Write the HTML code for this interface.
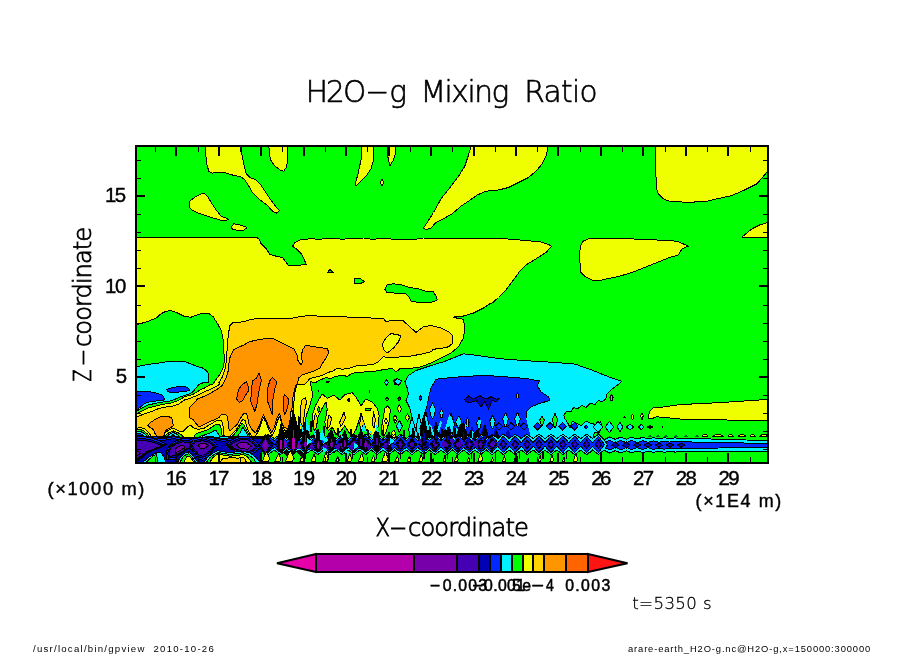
<!DOCTYPE html>
<html><head><meta charset="utf-8"><title>H2O-g Mixing Ratio</title>
<style>html,body{margin:0;padding:0;background:#fff}svg{display:block}text{fill:#000}</style></head>
<body>
<svg width="904" height="654" viewBox="0 0 904 654">
<rect width="904" height="654" fill="#fff"/>
<defs><clipPath id="fr"><rect x="136" y="146" width="632" height="317"/></clipPath></defs>
<g clip-path="url(#fr)" shape-rendering="crispEdges">
<rect x="136" y="146" width="632" height="317" fill="#00ff00"/>
<path d="M205.0 145.0 L205.8 155.0 L207.0 165.0 L208.8 171.2 L212.5 173.2 L216.2 172.0 L223.8 172.5 L232.5 175.0 L241.2 177.0 L245.0 180.0 L248.8 186.2 L252.5 192.5 L260.0 200.0 L267.5 205.5 L272.5 211.2 L276.2 213.2 L279.5 210.8 L276.2 207.0 L270.0 198.8 L265.0 191.2 L260.0 183.8 L256.2 180.0 L250.0 177.5 L246.2 173.8 L243.8 163.8 L242.0 155.0 L240.8 145.0Z" fill="#f0ff00" stroke="#000" stroke-width="1" stroke-linejoin="round"/>
<path d="M268.8 145.0 L269.5 155.0 L271.2 161.2 L275.0 166.2 L280.0 170.0 L283.8 171.2 L286.2 167.5 L287.5 162.5 L287.5 145.0Z" fill="#f0ff00" stroke="#000" stroke-width="1" stroke-linejoin="round"/>
<path d="M189.5 201.2 L196.2 196.2 L203.8 193.0 L207.5 196.2 L211.2 202.5 L216.2 210.0 L221.2 216.2 L228.8 219.2 L226.2 220.5 L220.0 220.0 L210.0 217.0 L200.0 213.8 L192.5 210.5 L189.5 207.5Z" fill="#f0ff00" stroke="#000" stroke-width="1" stroke-linejoin="round"/>
<path d="M231.2 227.5 L233.8 223.8 L240.0 225.0 L247.0 227.5 L243.8 230.0 L237.5 230.5 L232.5 229.2Z" fill="#f0ff00" stroke="#000" stroke-width="1" stroke-linejoin="round"/>
<path d="M362.2 145.0 L361.0 160.0 L358.0 173.8 L356.0 181.2 L355.0 183.8 L356.0 185.8 L359.8 182.5 L366.0 176.2 L371.0 168.8 L373.5 160.0 L374.0 145.0Z" fill="#f0ff00" stroke="#000" stroke-width="1" stroke-linejoin="round"/>
<path d="M387.2 145.0 L388.0 157.5 L389.8 165.8 L393.5 160.0 L395.5 153.8 L396.0 145.0Z" fill="#f0ff00" stroke="#000" stroke-width="1" stroke-linejoin="round"/>
<path d="M380.2 182.5 L382.2 179.2 L384.0 182.5 L382.2 185.8Z" fill="#f0ff00" stroke="#000" stroke-width="1" stroke-linejoin="round"/>
<path d="M471.5 145.0 L468.5 155.0 L464.8 166.2 L458.5 176.2 L451.0 186.2 L441.0 198.8 L433.5 212.5 L427.2 222.5 L423.5 228.0 L426.0 229.5 L431.0 228.0 L436.0 222.5 L442.2 219.5 L452.2 213.8 L461.0 206.2 L468.5 201.2 L477.2 195.0 L486.0 191.2 L498.5 190.0 L508.5 187.5 L518.5 182.5 L528.5 177.5 L536.0 171.2 L542.2 163.8 L546.5 155.0 L548.5 145.0Z" fill="#f0ff00" stroke="#000" stroke-width="1" stroke-linejoin="round"/>
<path d="M655.8 145.0 L655.8 165.0 L656.2 187.5 L658.2 193.8 L663.2 198.8 L669.5 201.2 L682.0 202.0 L694.5 202.0 L707.0 201.2 L717.0 198.8 L732.0 195.5 L744.5 190.0 L757.0 183.8 L764.5 175.0 L767.5 171.2 L772.0 165.0 L772.0 145.0Z" fill="#f0ff00" stroke="#000" stroke-width="1" stroke-linejoin="round"/>
<path d="M580.0 250.0 L580.8 245.0 L583.2 241.2 L588.2 238.8 L607.0 238.8 L629.5 238.8 L657.0 240.0 L677.0 241.2 L683.2 243.8 L688.2 246.2 L682.0 248.8 L678.2 255.0 L669.5 257.5 L657.0 262.5 L644.5 267.5 L632.0 272.5 L619.5 276.2 L607.0 278.8 L599.5 280.5 L592.0 280.0 L585.8 277.0 L580.8 272.5 L579.8 260.0Z" fill="#f0ff00" stroke="#000" stroke-width="1" stroke-linejoin="round"/>
<path d="M742.0 237.0 L752.0 228.8 L759.5 225.0 L772.0 221.2 L772.0 238.5 L757.0 237.0Z" fill="#f0ff00" stroke="#000" stroke-width="1" stroke-linejoin="round"/>
<path d="M648.2 418.0 L649.5 411.8 L653.2 408.0 L664.5 406.8 L677.0 405.0 L694.5 403.8 L712.0 403.0 L732.0 401.8 L752.0 400.5 L772.0 399.0 L772.0 421.0 L757.0 420.5 L742.0 420.0 L727.0 420.0 L712.0 419.2 L697.0 420.0 L682.0 419.2 L669.5 418.0 L657.0 416.8 L652.0 418.5Z" fill="#f0ff00" stroke="#000" stroke-width="1" stroke-linejoin="round"/>
<path d="M130.0 237.0 L256.2 237.0 L258.8 238.8 L261.2 243.8 L266.2 248.8 L270.0 254.5 L276.2 256.2 L282.5 257.5 L286.2 262.5 L288.8 265.8 L295.0 265.8 L306.2 264.2 L303.8 258.8 L301.2 253.8 L296.2 248.8 L292.5 246.2 L295.0 242.5 L300.0 240.0 L310.0 238.8 L320.0 239.2 L330.0 238.2 L342.5 239.2 L356.0 238.2 L363.5 238.0 L371.0 239.2 L381.0 238.8 L401.0 239.2 L416.0 239.2 L423.5 238.0 L438.5 238.0 L456.0 238.8 L506.0 238.8 L526.0 240.5 L541.0 242.0 L548.5 244.5 L551.5 246.2 L546.0 252.5 L536.0 258.8 L526.0 265.0 L519.8 271.2 L513.5 280.0 L506.0 290.0 L498.5 297.5 L492.2 303.0 L491.0 303.0 L483.5 308.0 L473.5 313.0 L463.5 316.0 L454.8 316.0 L453.5 317.5 L463.5 319.2 L464.8 328.0 L463.5 338.0 L458.5 346.8 L451.0 353.0 L441.0 358.0 L431.0 363.0 L421.0 366.8 L409.8 368.5 L401.0 368.0 L396.0 371.8 L392.2 368.5 L386.0 369.2 L376.0 371.0 L366.0 371.8 L356.0 373.0 L356.0 440.0 L130.0 440.0Z" fill="#f0ff00" stroke="#000" stroke-width="1" stroke-linejoin="round"/>
<path d="M327.5 272.5 L330.0 269.5 L333.0 272.5Z" fill="#00ff00" stroke="#000" stroke-width="1" stroke-linejoin="round"/>
<path d="M354.0 278.0 L361.0 278.8 L364.2 281.8 L359.8 283.8 L354.0 283.8Z" fill="#00ff00" stroke="#000" stroke-width="1" stroke-linejoin="round"/>
<path d="M384.8 290.0 L387.2 284.5 L393.5 283.8 L402.2 285.0 L409.8 287.5 L418.5 288.8 L426.0 291.2 L433.5 291.8 L436.0 296.2 L437.2 300.0 L431.0 302.5 L418.5 302.5 L411.0 301.2 L408.5 296.2 L404.8 293.0 L393.5 293.0 L387.2 292.5Z" fill="#00ff00" stroke="#000" stroke-width="1" stroke-linejoin="round"/>
<path d="M135.0 324.9 L142.5 323.0 L148.8 321.1 L156.2 318.0 L161.2 313.6 L166.2 311.1 L171.2 310.8 L177.5 313.0 L185.0 316.8 L191.2 317.1 L198.8 314.2 L203.8 313.2 L208.8 313.6 L213.1 316.8 L217.5 323.6 L221.2 330.5 L223.1 339.2 L223.8 350.5 L224.4 360.5 L223.1 368.0 L220.0 374.2 L216.2 379.2 L213.1 384.0 L211.2 384.0 L206.2 387.1 L200.0 390.2 L192.5 394.6 L185.0 396.5 L180.0 399.6 L172.5 402.8 L165.0 404.0 L156.2 405.9 L148.8 407.8 L142.5 410.9 L135.0 414.6Z" fill="#00ff00" stroke="#000" stroke-width="1" stroke-linejoin="round"/>
<path d="M135.0 366.8 L142.5 365.5 L150.0 364.2 L158.8 363.0 L167.5 361.5 L177.5 361.1 L185.0 361.5 L190.0 363.6 L196.2 366.1 L202.5 368.0 L206.2 370.5 L208.8 374.2 L209.0 379.2 L208.1 382.4 L202.5 383.0 L200.0 384.0 L199.4 384.0 L196.2 387.8 L192.5 392.1 L187.5 394.6 L180.0 397.1 L171.2 400.9 L162.5 402.1 L155.0 403.4 L147.5 405.2 L141.2 408.4 L135.0 412.1Z" fill="#00f0ff" stroke="#000" stroke-width="1" stroke-linejoin="round"/>
<path d="M135.0 391.5 L142.5 391.2 L150.0 391.8 L157.5 393.4 L162.5 395.2 L164.4 398.4 L163.8 400.0 L157.5 400.9 L151.2 401.5 L146.2 402.8 L142.5 405.2 L138.8 408.4 L135.0 410.9Z" fill="#0028ff" stroke="#000" stroke-width="1" stroke-linejoin="round"/>
<path d="M166.9 389.6 L171.2 387.8 L180.0 386.2 L185.0 386.5 L188.8 388.4 L189.8 390.2 L185.0 391.5 L177.5 392.1 L170.0 392.5 L167.5 391.2Z" fill="#0028ff" stroke="#000" stroke-width="1" stroke-linejoin="round"/>
<path d="M135.0 430.0 L140.8 429.7 L144.1 431.1 L147.0 433.6 L149.5 436.5 L164.9 436.5 L166.5 434.2 L169.0 432.8 L173.2 430.9 L175.2 431.5 L179.8 433.6 L183.1 436.5 L183.1 439.0 L135.0 439.0Z" fill="#00ff00" stroke="#000" stroke-width="1" stroke-linejoin="round"/>
<path d="M135.0 432.0 L140.4 431.5 L143.3 432.8 L146.2 435.3 L147.8 436.9 L166.5 436.9 L169.0 434.6 L173.2 432.5 L175.6 433.4 L178.1 435.3 L179.8 436.9 L179.8 439.0 L135.0 439.0Z" fill="#00f0ff" stroke="#000" stroke-width="1" stroke-linejoin="round"/>
<path d="M135.0 434.0 L140.0 433.6 L142.4 434.9 L144.9 436.9 L169.0 436.9 L173.2 434.7 L176.5 436.9 L176.5 439.0 L135.0 439.0Z" fill="#0028ff" stroke="#000" stroke-width="1" stroke-linejoin="round"/>
<path d="M194.1 436.5 L195.8 434.0 L200.7 432.0 L207.4 429.9 L211.5 427.4 L214.9 424.9 L217.8 424.1 L219.8 424.9 L221.1 428.2 L221.5 433.2 L222.3 436.5 L232.3 436.5 L236.4 431.5 L239.8 426.6 L242.2 423.2 L243.9 424.9 L245.6 428.2 L248.0 433.2 L250.5 436.5 L250.5 439.0 L194.1 439.0Z" fill="#00ff00" stroke="#000" stroke-width="1" stroke-linejoin="round"/>
<path d="M199.1 436.5 L204.9 434.9 L211.5 432.4 L214.9 429.9 L216.5 430.7 L218.2 434.0 L219.8 436.5 L237.3 436.5 L239.8 433.2 L242.2 428.2 L243.1 427.4 L245.6 431.5 L248.0 435.7 L248.0 439.0 L199.1 439.0Z" fill="#00f0ff" stroke="#000" stroke-width="1" stroke-linejoin="round"/>
<path d="M229.4 326.1 L232.5 323.0 L236.2 322.4 L243.0 321.8 L249.2 319.9 L258.0 318.2 L269.2 318.6 L280.5 319.0 L290.5 318.6 L303.0 316.1 L313.0 315.5 L318.0 316.1 L330.5 316.1 L343.0 316.8 L356.0 317.4 L371.0 318.0 L383.5 318.5 L386.0 321.8 L393.5 320.0 L402.2 320.0 L408.5 325.5 L416.0 332.5 L423.5 326.8 L431.0 325.5 L441.0 328.0 L448.5 331.8 L452.2 335.5 L453.0 343.0 L448.5 346.8 L441.0 348.5 L433.5 349.2 L431.0 351.8 L421.0 354.2 L411.0 356.0 L401.0 356.8 L391.0 358.0 L383.5 356.8 L378.5 361.8 L373.5 364.2 L363.5 365.5 L356.0 366.0 L350.5 368.0 L343.0 369.2 L336.8 368.6 L333.0 371.1 L328.0 372.4 L323.0 374.9 L318.0 376.8 L313.0 377.4 L309.2 379.2 L305.5 384.0 L296.8 385.0 L294.9 392.5 L294.0 401.2 L293.0 410.0 L292.4 417.5 L291.1 426.2 L288.6 431.9 L284.9 430.6 L282.4 425.0 L280.5 418.8 L279.2 416.2 L277.4 421.2 L274.9 430.0 L272.0 435.6 L269.2 430.6 L266.1 422.5 L263.6 417.8 L261.8 421.9 L259.2 429.4 L255.5 436.2 L252.2 436.5 L249.7 433.2 L247.6 429.0 L246.4 424.9 L245.1 420.7 L243.5 419.5 L241.8 420.3 L239.8 424.1 L237.3 428.2 L233.1 433.2 L229.8 436.5 L225.2 436.5 L223.6 434.9 L223.6 429.0 L222.7 424.1 L221.5 420.7 L219.0 419.9 L215.7 421.2 L211.5 423.7 L207.4 426.1 L204.1 428.2 L199.9 429.0 L196.6 429.0 L193.3 427.8 L190.8 425.3 L187.9 426.6 L183.3 431.1 L180.0 431.5 L178.1 430.3 L174.8 429.0 L171.5 428.6 L167.3 431.1 L164.9 433.2 L163.6 436.5 L151.6 436.9 L150.3 434.9 L148.3 432.0 L144.9 429.0 L141.6 427.8 L135.0 428.2 L135.0 417.5 L142.5 414.6 L150.0 412.1 L157.5 409.0 L165.0 407.1 L173.8 405.9 L178.8 404.0 L183.8 400.2 L190.0 398.4 L197.5 395.2 L205.0 391.5 L211.2 389.0 L217.5 385.9 L220.0 384.0 L218.8 383.0 L222.5 376.8 L225.0 369.2 L226.2 361.8 L226.9 353.0 L227.5 341.8 L228.8 333.0Z" fill="#ffd200" stroke="#000" stroke-width="1" stroke-linejoin="round"/>
<path d="M382.2 344.2 L386.0 338.0 L391.0 333.5 L401.0 335.5 L398.5 341.8 L393.5 348.0 L387.2 353.0 L383.5 349.2Z" fill="#f0ff00" stroke="#000" stroke-width="1" stroke-linejoin="round"/>
<path d="M243.0 345.5 L248.0 342.4 L254.2 340.5 L261.8 339.2 L268.0 338.2 L273.0 338.6 L278.0 341.1 L284.2 344.2 L290.5 347.4 L294.2 349.2 L296.8 354.2 L298.0 360.5 L301.1 364.9 L302.4 361.8 L301.1 355.5 L303.0 349.2 L305.5 345.5 L310.5 346.1 L318.0 347.4 L323.0 348.0 L327.4 348.6 L328.6 352.4 L326.8 356.8 L323.0 362.4 L319.9 368.0 L315.5 370.5 L308.0 373.0 L302.4 374.9 L298.6 378.0 L297.4 384.0 L296.1 385.0 L294.2 391.2 L293.0 397.5 L292.4 403.8 L291.8 410.0 L290.5 412.5 L289.9 422.5 L288.0 428.8 L284.2 427.5 L281.8 422.5 L280.5 416.2 L279.2 413.8 L276.8 418.8 L274.2 427.5 L271.8 432.5 L269.2 427.5 L266.1 420.0 L263.6 415.0 L261.8 418.8 L259.2 426.2 L256.1 432.2 L255.0 432.4 L253.0 430.7 L250.5 427.4 L248.5 422.4 L247.6 416.6 L246.4 413.3 L243.1 414.1 L240.6 418.3 L237.3 424.1 L233.1 428.2 L229.8 430.7 L228.1 426.6 L228.1 421.6 L227.7 416.6 L225.2 414.5 L221.1 414.9 L219.0 417.4 L215.7 419.1 L209.9 421.6 L204.1 424.5 L199.1 427.0 L196.6 424.1 L193.3 419.9 L189.5 417.8 L189.1 412.4 L190.0 406.6 L193.8 403.4 L197.5 399.0 L203.8 396.5 L210.0 393.4 L217.5 389.0 L222.5 385.2 L223.1 384.0 L226.2 378.0 L228.1 371.1 L228.8 365.5 L229.4 359.2 L231.2 354.2 L233.8 349.9 L238.8 347.0 L243.0 345.5Z" fill="#ff9600" stroke="#000" stroke-width="1" stroke-linejoin="round"/>
<path d="M147.8 425.3 L150.7 422.4 L154.9 419.5 L159.0 417.4 L163.2 416.2 L167.3 416.2 L171.5 417.8 L172.7 421.6 L173.2 425.7 L170.7 427.8 L166.5 429.9 L164.4 432.8 L163.6 436.5 L156.6 436.5 L154.9 433.2 L153.2 429.5 L149.9 427.4Z" fill="#ff9600" stroke="#000" stroke-width="1" stroke-linejoin="round"/>
<path d="M236.6 399.0 L238.7 389.1 L242.4 384.5 L246.6 381.6 L249.1 389.9 L245.7 394.9 L242.8 400.7 L239.1 402.3Z" fill="#ff6400" stroke="#000" stroke-width="1" stroke-linejoin="round"/>
<path d="M250.7 400.7 L252.4 380.8 L256.5 378.3 L259.0 373.3 L261.5 379.9 L259.0 390.7 L257.0 404.0 L254.9 411.5 L252.4 405.7Z" fill="#ff6400" stroke="#000" stroke-width="1" stroke-linejoin="round"/>
<path d="M267.3 400.7 L267.7 388.2 L269.8 380.8 L272.3 377.4 L276.9 381.6 L274.8 389.1 L273.1 397.4 L272.3 414.8 L270.2 408.2Z" fill="#ff6400" stroke="#000" stroke-width="1" stroke-linejoin="round"/>
<path d="M283.5 397.4 L284.8 394.5 L288.5 399.0 L288.1 404.8 L286.4 411.5 L284.3 414.8 L283.5 406.5Z" fill="#ff6400" stroke="#000" stroke-width="1" stroke-linejoin="round"/>
<path d="M135.0 435.6 L142.5 436.2 L150.0 437.5 L155.0 438.8 L161.2 438.1 L167.5 437.5 L173.8 436.2 L180.0 437.5 L192.5 438.1 L205.0 437.5 L211.2 436.9 L217.5 438.1 L223.8 439.4 L230.0 438.1 L236.2 437.5 L243.0 436.9 L255.0 436.9 L266.2 436.5 L266.2 455.0 L262.5 457.8 L260.0 463.8 L135.0 463.8Z" fill="#0028ff"/>
<path d="M135.0 435.6 L142.5 436.2 L150.0 437.5 L155.0 438.8 L161.2 438.1 L167.5 437.5 L173.8 436.2 L180.0 437.5 L192.5 438.1 L205.0 437.5 L211.2 436.9 L217.5 438.1 L223.8 439.4 L230.0 438.1 L236.2 437.5 L243.0 436.9 L255.0 436.9 L266.2 436.5" fill="none" stroke="#000" stroke-width="2" stroke-linejoin="round"/>
<path d="M135.0 438.1 L142.5 438.5 L150.0 439.8 L155.0 441.0 L161.2 440.6 L167.5 439.8 L173.8 438.5 L180.0 439.8 L192.5 440.2 L205.0 439.4 L211.2 439.0 L217.5 440.2 L223.8 441.5 L230.0 440.2 L236.2 439.4 L243.0 438.8 L255.0 438.8 L265.6 438.4 L265.6 454.4 L261.9 456.9 L258.8 463.8 L135.0 463.8Z" fill="#0000b4"/>
<path d="M135.0 438.1 L142.5 438.5 L150.0 439.8 L155.0 441.0 L161.2 440.6 L167.5 439.8 L173.8 438.5 L180.0 439.8 L192.5 440.2 L205.0 439.4 L211.2 439.0 L217.5 440.2 L223.8 441.5 L230.0 440.2 L236.2 439.4 L243.0 438.8 L255.0 438.8 L265.6 438.4" fill="none" stroke="#000" stroke-width="1" stroke-linejoin="round"/>
<path d="M131.2 436.7 L141.1 436.1 L151.0 438.0 L160.9 441.4 L166.7 444.2 L159.2 447.9 L152.7 450.7 L146.1 453.6 L141.1 458.2 L134.5 462.9 L131.2 463.9Z" fill="#0028ff" stroke="#000" stroke-width="1" stroke-linejoin="round"/>
<path d="M133.1 438.7 L141.8 438.2 L150.5 439.7 L159.2 442.6 L164.3 444.9 L157.8 448.0 L151.9 450.4 L146.2 452.7 L141.8 456.6 L136.0 460.5 L133.1 461.3Z" fill="#0000b4" stroke="#000" stroke-width="1" stroke-linejoin="round"/>
<path d="M168.4 446.8 L175.0 441.2 L183.3 438.4 L191.5 439.3 L194.8 443.1 L191.5 447.8 L186.6 449.6 L183.3 452.4 L178.3 455.3 L175.0 459.0 L166.8 459.9 L166.0 453.4Z" fill="#0028ff" stroke="#000" stroke-width="1" stroke-linejoin="round"/>
<path d="M169.8 447.2 L175.6 442.5 L182.9 440.1 L190.1 440.9 L193.0 444.0 L190.1 447.9 L185.8 449.5 L182.9 451.8 L178.5 454.2 L175.6 457.3 L168.4 458.1 L167.7 452.6Z" fill="#0000b4" stroke="#000" stroke-width="1" stroke-linejoin="round"/>
<path d="M189.3 444.5 L194.2 438.9 L202.5 437.0 L209.1 438.9 L214.0 441.7 L217.3 445.4 L212.4 451.0 L207.4 456.7 L202.5 460.4 L197.5 458.5 L194.2 452.9 L190.9 449.2Z" fill="#0028ff" stroke="#000" stroke-width="1" stroke-linejoin="round"/>
<path d="M190.9 445.1 L195.2 440.4 L202.5 438.8 L208.3 440.4 L212.6 442.7 L215.5 445.8 L211.2 450.5 L206.8 455.2 L202.5 458.3 L198.1 456.8 L195.2 452.1 L192.3 449.0Z" fill="#0000b4" stroke="#000" stroke-width="1" stroke-linejoin="round"/>
<path d="M225.7 444.4 L232.3 439.7 L238.9 436.9 L248.8 436.5 L257.0 442.5 L260.3 447.2 L255.4 451.9 L248.8 454.7 L242.9 453.8 L237.2 451.9 L230.6 449.1Z" fill="#0028ff" stroke="#000" stroke-width="1" stroke-linejoin="round"/>
<path d="M227.8 444.7 L233.6 440.8 L239.4 438.4 L248.1 438.1 L255.4 443.1 L258.3 447.0 L253.9 450.9 L248.1 453.3 L242.9 452.5 L238.0 450.9 L232.2 448.6Z" fill="#0000b4" stroke="#000" stroke-width="1" stroke-linejoin="round"/>
<path d="M135.0 440.6 L142.5 440.2 L150.0 441.5 L157.5 443.8 L161.9 445.6 L156.2 448.1 L151.2 450.0 L146.2 451.9 L142.5 455.0 L137.5 458.1 L135.0 458.8Z" fill="#4600b4" stroke="#000" stroke-width="1" stroke-linejoin="round"/>
<path d="M171.2 447.5 L176.2 443.8 L182.5 441.9 L188.8 442.5 L191.2 445.0 L188.8 448.1 L185.0 449.4 L182.5 451.2 L178.8 453.1 L176.2 455.6 L170.0 456.2 L169.4 451.9Z" fill="#4600b4" stroke="#000" stroke-width="1" stroke-linejoin="round"/>
<path d="M192.5 445.6 L196.2 441.9 L202.5 440.6 L207.5 441.9 L211.2 443.8 L213.8 446.2 L210.0 450.0 L206.2 453.8 L202.5 456.2 L198.8 455.0 L196.2 451.2 L193.8 448.8Z" fill="#4600b4" stroke="#000" stroke-width="1" stroke-linejoin="round"/>
<path d="M230.0 445.0 L235.0 441.9 L240.0 440.0 L247.5 439.8 L253.8 443.8 L256.2 446.9 L252.5 450.0 L247.5 451.9 L243.0 451.2 L238.8 450.0 L233.8 448.1Z" fill="#4600b4" stroke="#000" stroke-width="1" stroke-linejoin="round"/>
<path d="M135.0 450.6 L138.1 451.2 L140.0 453.5 L137.5 455.6 L135.0 456.2Z" fill="#7800aa" stroke="#000" stroke-width="1" stroke-linejoin="round"/>
<path d="M198.1 445.0 L201.2 443.1 L206.2 443.8 L208.1 445.6 L205.0 448.1 L200.6 448.8Z" fill="#7800aa" stroke="#000" stroke-width="1" stroke-linejoin="round"/>
<path d="M236.2 445.0 L240.0 442.5 L246.9 442.5 L251.2 446.2 L247.5 449.4 L243.0 448.8 L240.0 448.1Z" fill="#7800aa" stroke="#000" stroke-width="1" stroke-linejoin="round"/>
<path d="M176.1 448.2 L178.3 446.6 L181.2 445.7 L184.0 446.0 L185.1 447.1 L184.0 448.5 L182.3 449.1 L181.2 449.9 L179.5 450.8 L178.3 451.9 L175.5 452.2 L175.2 450.2Z" fill="#7800aa" stroke="#000" stroke-width="1" stroke-linejoin="round"/>
<path d="M142.5 462.5 L147.5 458.1 L156.9 452.2 L160.6 452.8 L163.8 456.2 L165.6 462.5Z" fill="#00f0ff" stroke="#000" stroke-width="1" stroke-linejoin="round"/>
<path d="M145.6 462.5 L152.5 456.5 L156.6 453.8 L157.8 462.5Z" fill="#00ff00" stroke="#000" stroke-width="1" stroke-linejoin="round"/>
<path d="M177.5 462.5 L180.0 457.5 L185.0 453.1 L188.8 451.9 L192.5 455.0 L196.2 460.0 L198.1 462.5Z" fill="#00f0ff" stroke="#000" stroke-width="1" stroke-linejoin="round"/>
<path d="M180.0 462.5 L182.5 457.5 L186.2 454.4 L188.8 453.8 L191.9 456.9 L195.6 462.5Z" fill="#00ff00" stroke="#000" stroke-width="1" stroke-linejoin="round"/>
<path d="M183.8 462.5 L186.9 456.5 L189.4 456.0 L194.4 462.5Z" fill="#f0ff00" stroke="#000" stroke-width="1" stroke-linejoin="round"/>
<path d="M203.8 462.5 L207.5 457.5 L212.5 453.1 L217.5 450.6 L223.8 451.9 L230.0 452.5 L236.2 451.9 L243.0 451.2 L250.0 453.1 L256.2 457.5 L260.0 462.5Z" fill="#00f0ff" stroke="#000" stroke-width="1" stroke-linejoin="round"/>
<path d="M206.2 462.5 L210.0 457.5 L215.0 454.0 L218.8 452.5 L223.8 453.5 L230.0 454.4 L236.2 453.5 L243.0 452.8 L248.8 455.0 L253.8 458.8 L256.2 462.5Z" fill="#00ff00" stroke="#000" stroke-width="1" stroke-linejoin="round"/>
<path d="M210.0 462.5 L212.5 457.8 L217.5 454.0 L223.8 455.2 L230.0 456.2 L236.2 455.6 L243.0 454.6 L247.5 456.9 L250.0 460.0 L251.9 462.5Z" fill="#f0ff00" stroke="#000" stroke-width="1" stroke-linejoin="round"/>
<path d="M220.0 462.5 L222.5 458.8 L230.0 457.8 L238.8 458.1 L243.0 456.9 L245.6 459.4 L246.2 462.5Z" fill="#ffd200" stroke="#000" stroke-width="1" stroke-linejoin="round"/>
<path d="M310.0 381.2 L315.0 383.1 L318.8 380.6 L326.2 377.5 L330.0 378.8 L336.2 376.2 L341.2 375.6 L347.5 376.2 L352.5 373.1 L356.2 372.8 L357.0 373.2 L400.0 372.0 L400.0 442.0 L311.0 442.0 L305.0 420.0 L306.9 413.8 L310.0 405.0 L312.5 396.2 L311.9 390.0Z" fill="#00ff00"/>
<path d="M356.2 372.8 L352.5 373.1 L347.5 376.2 L341.2 375.6 L336.2 376.2 L330.0 378.8 L326.2 377.5 L318.8 380.6 L315.0 383.1 L310.0 381.2 L311.9 390.0 L312.5 396.2 L310.0 405.0 L306.9 413.8 L305.6 418.8" fill="none" stroke="#000" stroke-width="1" stroke-linejoin="round"/>
<path d="M325.6 381.2 L330.6 380.6 L329.4 382.5 L326.9 383.1Z" fill="#000"/>
<path d="M317.9 390.0 L319.8 389.8 L319.0 391.5 L318.0 391.5Z" fill="#000"/>
<path d="M369.0 390.0 L370.0 390.0 L370.0 393.1 L369.0 393.1Z" fill="#000"/>
<path d="M384.8 382.0 L386.4 379.8 L388.0 382.0 L386.4 384.2Z" fill="#00f0ff" stroke="#000" stroke-width="1" stroke-linejoin="round"/>
<path d="M393.5 380.8 L396.0 378.9 L399.0 379.5 L400.4 382.0 L398.5 384.5 L394.8 384.2Z" fill="#00f0ff" stroke="#000" stroke-width="1" stroke-linejoin="round"/>
<path d="M385.4 399.1 L387.0 397.4 L388.6 399.1 L387.0 400.9Z" fill="#00ff00" stroke="#000" stroke-width="1" stroke-linejoin="round"/>
<path d="M312.9 413.2 L316.0 404.5 L322.2 393.9 L327.2 398.2 L334.1 395.1 L339.8 400.1 L344.8 394.5 L352.2 392.6 L356.0 397.0 L361.0 405.8 L366.0 398.9 L372.2 402.0 L377.2 408.2 L379.1 415.8 L378.5 425.8 L376.0 432.0 L372.2 435.8 L367.2 432.0 L364.8 425.8 L361.0 413.2 L358.5 422.0 L356.0 429.5 L352.2 435.8 L348.5 432.0 L344.8 425.8 L341.0 430.8 L336.0 434.5 L332.2 427.0 L328.5 430.8 L326.0 427.0 L324.8 422.0 L327.2 409.5 L326.0 402.0 L322.2 408.2 L318.5 415.8 L316.0 422.0 L313.5 429.5 L312.2 422.0Z" fill="#f0ff00" stroke="#000" stroke-width="1" stroke-linejoin="round"/>
<path d="M382.2 424.5 L384.8 408.2 L387.9 405.8 L390.4 409.5 L389.1 422.0 L386.0 432.0 L383.5 437.0Z" fill="#f0ff00" stroke="#000" stroke-width="1" stroke-linejoin="round"/>
<path d="M393.5 419.5 L395.4 415.1 L397.2 419.5 L395.4 423.2Z" fill="#f0ff00" stroke="#000" stroke-width="1" stroke-linejoin="round"/>
<path d="M391.0 434.5 L394.8 430.8 L396.0 437.0 L392.2 437.6Z" fill="#f0ff00" stroke="#000" stroke-width="1" stroke-linejoin="round"/>
<path d="M313.5 422.0 L315.4 413.2 L317.9 419.5 L316.0 428.2 L314.1 430.8Z" fill="#ffd200" stroke="#000" stroke-width="1" stroke-linejoin="round"/>
<path d="M327.2 422.0 L329.1 415.1 L331.6 418.2 L329.8 425.8 L327.9 428.2Z" fill="#ffd200" stroke="#000" stroke-width="1" stroke-linejoin="round"/>
<path d="M339.8 422.0 L344.1 412.0 L345.4 418.2 L342.2 424.5 L340.4 427.0Z" fill="#ffd200" stroke="#000" stroke-width="1" stroke-linejoin="round"/>
<path d="M359.8 423.2 L361.6 414.5 L363.5 422.0 L362.2 430.8 L360.4 430.8Z" fill="#ffd200" stroke="#000" stroke-width="1" stroke-linejoin="round"/>
<path d="M372.2 424.5 L373.5 412.0 L375.4 419.5 L374.1 428.2Z" fill="#ffd200" stroke="#000" stroke-width="1" stroke-linejoin="round"/>
<path d="M381.0 424.5 L382.9 423.2 L383.5 430.8 L381.6 434.5Z" fill="#ffd200" stroke="#000" stroke-width="1" stroke-linejoin="round"/>
<path d="M300.4 408.2 L302.2 399.5 L305.4 397.6 L306.6 402.0 L304.8 409.5 L303.5 422.0 L302.2 430.8 L300.8 422.0Z" fill="#ffd200" stroke="#000" stroke-width="1" stroke-linejoin="round"/>
<path d="M317.2 409.5 L318.8 406.4 L320.0 409.5 L318.8 412.6Z" fill="#00ff00" stroke="#000" stroke-width="1" stroke-linejoin="round"/>
<path d="M347.6 400.1 L348.9 398.5 L350.1 400.1 L348.9 401.8Z" fill="#00ff00" stroke="#000" stroke-width="1" stroke-linejoin="round"/>
<path d="M365.0 408.9 L371.6 408.2 L370.4 410.1 L366.0 410.8Z" fill="#00ff00" stroke="#000" stroke-width="1" stroke-linejoin="round"/>
<path d="M404.8 381.8 L408.5 375.5 L416.0 370.5 L431.0 365.5 L443.5 361.8 L456.0 356.8 L463.5 353.8 L473.5 355.0 L491.0 357.5 L506.0 359.2 L531.0 361.0 L556.0 362.5 L576.0 364.2 L582.0 366.8 L592.0 370.0 L602.0 374.2 L612.0 378.0 L622.0 381.2 L617.0 385.5 L612.0 389.2 L607.0 394.2 L605.8 399.2 L602.0 401.8 L598.2 400.5 L594.5 405.0 L590.8 403.0 L585.8 407.5 L582.0 405.5 L577.5 408.8 L573.8 407.5 L571.2 411.2 L566.2 411.9 L563.8 415.0 L565.0 418.8 L567.5 422.5 L570.0 427.5 L572.5 421.2 L576.2 423.1 L581.2 425.6 L586.2 421.2 L590.0 423.1 L595.0 424.4 L600.0 421.9 L600.0 421.2 L601.9 425.0 L600.6 430.0 L598.1 433.8 L595.0 431.9 L593.1 436.2 L598.8 436.5 L602.5 437.5 L602.5 441.2 L416.0 438.0 L413.0 420.5 L409.8 408.0 L406.0 400.5 L408.5 394.2 L407.2 388.0Z" fill="#00f0ff"/>
<path d="M413.0 420.5 L409.8 408.0 L406.0 400.5 L408.5 394.2 L407.2 388.0 L404.8 381.8 L408.5 375.5 L416.0 370.5 L431.0 365.5 L443.5 361.8 L456.0 356.8 L463.5 353.8 L473.5 355.0 L491.0 357.5 L506.0 359.2 L531.0 361.0 L556.0 362.5 L576.0 364.2 L582.0 366.8 L592.0 370.0 L602.0 374.2 L612.0 378.0 L622.0 381.2 L617.0 385.5 L612.0 389.2 L607.0 394.2 L605.8 399.2 L602.0 401.8 L598.2 400.5 L594.5 405.0 L590.8 403.0 L585.8 407.5 L582.0 405.5 L577.5 408.8 L573.8 407.5 L571.2 411.2 L566.2 411.9 L563.8 415.0 L565.0 418.8 L567.5 422.5 L570.0 427.5 L572.5 421.2 L576.2 423.1 L581.2 425.6 L586.2 421.2 L590.0 423.1 L595.0 424.4 L600.0 421.9 L600.0 421.2 L601.9 425.0 L600.6 430.0 L598.1 433.8 L595.0 431.9 L593.1 436.2 L598.8 436.5 L602.5 437.5" fill="none" stroke="#000" stroke-width="1" stroke-linejoin="round"/>
<path d="M431.0 388.0 L436.0 379.2 L451.0 377.5 L468.5 376.2 L486.0 375.5 L506.0 376.8 L526.0 378.5 L539.8 381.0 L537.2 385.5 L541.0 391.8 L548.5 396.8 L549.8 400.5 L541.0 403.0 L531.0 406.8 L526.0 411.8 L526.0 418.0 L528.5 428.0 L531.0 438.0 L423.5 438.0 L423.5 420.5 L424.8 413.0 L427.2 405.5 L428.5 398.0Z" fill="#0028ff"/>
<path d="M423.5 420.5 L424.8 413.0 L427.2 405.5 L428.5 398.0 L431.0 388.0 L436.0 379.2 L451.0 377.5 L468.5 376.2 L486.0 375.5 L506.0 376.8 L526.0 378.5 L539.8 381.0 L537.2 385.5 L541.0 391.8 L548.5 396.8 L549.8 400.5 L541.0 403.0 L531.0 406.8 L526.0 411.8 L526.0 418.0" fill="none" stroke="#000" stroke-width="1" stroke-linejoin="round"/>
<path d="M464.8 399.2 L468.5 396.0 L473.5 399.2 L479.8 395.5 L486.0 399.2 L491.0 396.8 L496.0 399.2 L499.8 398.0 L496.0 401.8 L492.2 400.5 L488.5 409.2 L484.8 401.8 L481.0 406.8 L476.0 400.5 L469.8 403.0 L466.0 401.8Z" fill="#0000b4" stroke="#000" stroke-width="1" stroke-linejoin="round"/>
<path d="M393.5 381.8 L397.2 378.8 L402.2 381.0 L398.5 385.0Z" fill="#00f0ff" stroke="#000" stroke-width="1" stroke-linejoin="round"/>
<path d="M384.8 382.5 L386.5 380.0 L388.2 382.5 L386.5 385.5Z" fill="#00f0ff" stroke="#000" stroke-width="1" stroke-linejoin="round"/>
<path d="M262.0 450.0 L770.0 450.0 L770.0 464.0 L262.0 464.0Z" fill="#00ff00"/>
<path d="M588.0 436.6 L593.5 439.7 L598.9 436.8 L604.4 439.6 L609.8 436.9 L615.3 439.4 L620.7 437.1 L626.2 439.2 L631.6 437.2 L637.1 439.1 L642.5 437.4 L648.0 438.9 L653.4 437.6 L658.9 438.8 L664.3 437.7 L669.8 438.6 L675.2 437.9 L680.7 438.5 L686.1 438.2 L691.6 438.6 L697.0 438.6 L702.5 438.8 L707.9 438.9 L713.4 439.1 L718.8 439.2 L724.3 439.4 L729.7 439.5 L735.2 439.7 L740.6 439.8 L746.1 440.0 L751.5 440.1 L757.0 440.3 L762.4 440.4 L767.9 440.5 L773.3 440.6 L773.3 451.3 L767.9 451.3 L762.4 451.3 L757.0 451.4 L751.5 451.4 L746.1 451.4 L740.6 451.5 L735.2 451.5 L729.7 451.5 L724.3 451.6 L718.8 451.6 L713.4 451.6 L707.9 451.6 L702.5 451.7 L697.0 451.7 L691.6 451.6 L686.1 451.9 L680.7 451.5 L675.2 452.1 L669.8 451.4 L664.3 452.3 L658.9 451.2 L653.4 452.4 L648.0 451.1 L642.5 452.6 L637.1 450.9 L631.6 452.8 L626.2 450.8 L620.7 452.9 L615.3 450.6 L609.8 453.1 L604.4 450.4 L598.9 453.2 L593.5 450.3 L588.0 453.4Z" fill="#00f0ff" stroke="#000" stroke-width="1" stroke-linejoin="round"/>
<path d="M588.0 439.8 L593.5 443.3 L598.9 440.0 L604.4 443.1 L609.8 440.2 L615.3 443.0 L620.7 440.3 L626.2 442.8 L631.6 440.5 L637.1 442.6 L642.5 440.7 L648.0 442.4 L653.4 440.9 L658.9 442.2 L664.3 441.0 L669.8 442.1 L675.2 441.2 L680.7 441.9 L686.1 441.5 L691.6 442.0 L697.0 442.0 L702.5 442.1 L707.9 442.2 L713.4 442.3 L718.8 442.5 L724.3 442.6 L729.7 442.7 L735.2 442.8 L740.6 442.9 L746.1 443.1 L751.5 443.2 L757.0 443.3 L762.4 443.4 L767.9 443.6 L773.3 443.6 L773.3 447.2 L767.9 447.2 L762.4 447.3 L757.0 447.4 L751.5 447.5 L746.1 447.6 L740.6 447.7 L735.2 447.7 L729.7 447.8 L724.3 447.9 L718.8 448.0 L713.4 448.1 L707.9 448.2 L702.5 448.3 L697.0 448.4 L691.6 448.3 L686.1 448.7 L680.7 448.3 L675.2 449.0 L669.8 448.1 L664.3 449.2 L658.9 448.0 L653.4 449.3 L648.0 447.8 L642.5 449.5 L637.1 447.6 L631.6 449.7 L626.2 447.4 L620.7 449.9 L615.3 447.2 L609.8 450.0 L604.4 447.1 L598.9 450.2 L593.5 446.9 L588.0 450.4Z" fill="#0028ff" stroke="#000" stroke-width="1" stroke-linejoin="round"/>
<path d="M589.9 445.1 L593.5 441.9 L597.1 445.1 L593.5 448.3Z" fill="#0000b4" stroke="#000" stroke-width="1" stroke-linejoin="round"/>
<path d="M600.8 445.1 L604.4 441.9 L608.0 445.1 L604.4 448.3Z" fill="#0000b4" stroke="#000" stroke-width="1" stroke-linejoin="round"/>
<path d="M611.7 445.1 L615.3 441.9 L618.9 445.1 L615.3 448.3Z" fill="#0000b4" stroke="#000" stroke-width="1" stroke-linejoin="round"/>
<path d="M622.6 445.1 L626.2 441.9 L629.8 445.1 L626.2 448.3Z" fill="#0000b4" stroke="#000" stroke-width="1" stroke-linejoin="round"/>
<path d="M633.5 445.1 L637.1 442.9 L640.7 445.1 L637.1 447.3Z" fill="#0000b4" stroke="#000" stroke-width="1" stroke-linejoin="round"/>
<path d="M644.4 445.1 L648.0 442.9 L651.6 445.1 L648.0 447.3Z" fill="#0000b4" stroke="#000" stroke-width="1" stroke-linejoin="round"/>
<path d="M655.3 445.1 L658.9 442.9 L662.5 445.1 L658.9 447.3Z" fill="#0000b4" stroke="#000" stroke-width="1" stroke-linejoin="round"/>
<path d="M666.4 445.1 L670.0 442.9 L673.6 445.1 L670.0 447.3Z" fill="#0000b4" stroke="#000" stroke-width="1" stroke-linejoin="round"/>
<path d="M677.4 445.1 L681.0 442.9 L684.6 445.1 L681.0 447.3Z" fill="#0000b4" stroke="#000" stroke-width="1" stroke-linejoin="round"/>
<path d="M397.2 408.8 L399.4 404.6 L401.6 408.8 L399.4 413.0Z" fill="#f0ff00" stroke="#000" stroke-width="1" stroke-linejoin="round"/>
<path d="M405.3 417.5 L407.5 413.9 L409.7 417.5 L407.5 421.1Z" fill="#f0ff00" stroke="#000" stroke-width="1" stroke-linejoin="round"/>
<path d="M393.2 418.0 L395.0 415.0 L396.8 418.0 L395.0 421.0Z" fill="#f0ff00" stroke="#000" stroke-width="1" stroke-linejoin="round"/>
<path d="M397.8 398.8 L399.4 396.6 L401.0 398.8 L399.4 401.0Z" fill="#0028ff" stroke="#000" stroke-width="1" stroke-linejoin="round"/>
<path d="M419.2 398.0 L420.6 395.4 L422.0 398.0 L420.6 400.6Z" fill="#0028ff" stroke="#000" stroke-width="1" stroke-linejoin="round"/>
<path d="M396.4 426.3 L399.4 420.3 L402.4 426.3 L399.4 432.3Z" fill="#00f0ff" stroke="#000" stroke-width="1" stroke-linejoin="round"/>
<path d="M384.4 421.0 L386.0 417.8 L387.6 421.0 L386.0 424.2Z" fill="#f0ff00" stroke="#000" stroke-width="1" stroke-linejoin="round"/>
<path d="M391.0 433.0 L393.5 430.5 L396.0 433.0 L393.5 435.5Z" fill="#f0ff00" stroke="#000" stroke-width="1" stroke-linejoin="round"/>
<path d="M412.0 417.0 L415.5 429.4 L413.4 437.0 L410.6 437.0 L408.5 429.4Z" fill="#00f0ff" stroke="#000" stroke-width="1" stroke-linejoin="round"/>
<path d="M419.0 414.0 L422.0 427.6 L420.2 436.0 L417.8 436.0 L416.0 427.6Z" fill="#00f0ff" stroke="#000" stroke-width="1" stroke-linejoin="round"/>
<path d="M426.0 412.0 L429.5 427.5 L427.4 437.0 L424.6 437.0 L422.5 427.5Z" fill="#00f0ff" stroke="#000" stroke-width="1" stroke-linejoin="round"/>
<path d="M495.1 426.3 L498.8 422.5 L502.4 426.3 L498.8 430.1Z" fill="#0028ff" stroke="#000" stroke-width="1" stroke-linejoin="round"/>
<path d="M507.6 426.3 L511.2 422.5 L514.9 426.3 L511.2 430.1Z" fill="#0028ff" stroke="#000" stroke-width="1" stroke-linejoin="round"/>
<path d="M520.1 426.3 L523.8 422.5 L527.4 426.3 L523.8 430.1Z" fill="#0028ff" stroke="#000" stroke-width="1" stroke-linejoin="round"/>
<path d="M533.9 426.3 L537.5 422.5 L541.1 426.3 L537.5 430.1Z" fill="#0028ff" stroke="#000" stroke-width="1" stroke-linejoin="round"/>
<path d="M546.4 426.3 L550.0 422.5 L553.6 426.3 L550.0 430.1Z" fill="#0028ff" stroke="#000" stroke-width="1" stroke-linejoin="round"/>
<path d="M558.9 426.3 L562.5 422.5 L566.1 426.3 L562.5 430.1Z" fill="#0028ff" stroke="#000" stroke-width="1" stroke-linejoin="round"/>
<path d="M570.8 426.3 L574.4 422.5 L578.0 426.3 L574.4 430.1Z" fill="#0028ff" stroke="#000" stroke-width="1" stroke-linejoin="round"/>
<path d="M584.4 427.0 L586.2 425.2 L588.0 427.0 L586.2 428.8Z" fill="#0028ff" stroke="#000" stroke-width="1" stroke-linejoin="round"/>
<path d="M593.4 427.0 L598.0 421.5 L602.6 427.0 L598.0 432.5Z" fill="#00f0ff" stroke="#000" stroke-width="1" stroke-linejoin="round"/>
<path d="M605.0 427.0 L609.4 421.4 L613.8 427.0 L609.4 432.6Z" fill="#00f0ff" stroke="#000" stroke-width="1" stroke-linejoin="round"/>
<path d="M616.8 427.0 L620.0 422.6 L623.2 427.0 L620.0 431.4Z" fill="#00f0ff" stroke="#000" stroke-width="1" stroke-linejoin="round"/>
<path d="M626.5 427.0 L630.0 423.9 L633.5 427.0 L630.0 430.1Z" fill="#00f0ff" stroke="#000" stroke-width="1" stroke-linejoin="round"/>
<path d="M638.7 427.0 L641.2 424.1 L643.7 427.0 L641.2 429.9Z" fill="#00f0ff" stroke="#000" stroke-width="1" stroke-linejoin="round"/>
<path d="M647.6 427.0 L650.0 425.7 L652.4 427.0 L650.0 428.3Z" fill="#00f0ff" stroke="#000" stroke-width="1" stroke-linejoin="round"/>
<path d="M632.5 414.2 L633.9 416.4 L633.2 417.2 L633.1 419.2 L631.9 419.2 L631.8 417.2 L631.1 416.4Z" fill="#f0ff00" stroke="#000" stroke-width="1" stroke-linejoin="round"/>
<path d="M642.0 413.0 L643.5 415.7 L642.8 417.0 L642.6 419.0 L641.4 419.0 L641.2 417.0 L640.5 415.7Z" fill="#f0ff00" stroke="#000" stroke-width="1" stroke-linejoin="round"/>
<path d="M623.1 417.5 L624.3 416.3 L625.5 417.5 L624.3 418.7Z" fill="#000"/>
<path d="M661.6 427.0 L662.5 426.1 L663.4 427.0 L662.5 427.9Z" fill="#000"/>
<path d="M648.2 436.6 L650.0 434.8 L651.8 436.6Z" fill="#063"/>
<path d="M656.2 436.6 L658.0 434.8 L659.8 436.6Z" fill="#063"/>
<path d="M664.2 436.6 L666.0 434.8 L667.8 436.6Z" fill="#063"/>
<path d="M674.2 436.6 L676.0 434.8 L677.8 436.6Z" fill="#063"/>
<path d="M684.2 436.6 L686.0 434.8 L687.8 436.6Z" fill="#063"/>
<path d="M695.2 436.6 L697.0 434.8 L698.8 436.6Z" fill="#063"/>
<path d="M702.0 436.4 L704.0 434.2 L706.0 434.2 L708.0 436.4Z" fill="#f0ff00" stroke="#000" stroke-width="1" stroke-linejoin="round"/>
<path d="M712.0 436.4 L717.0 434.2 L719.0 434.2 L724.0 436.4Z" fill="#f0ff00" stroke="#000" stroke-width="1" stroke-linejoin="round"/>
<path d="M728.0 436.4 L729.5 434.2 L731.5 434.2 L733.0 436.4Z" fill="#f0ff00" stroke="#000" stroke-width="1" stroke-linejoin="round"/>
<path d="M738.0 436.4 L741.0 434.2 L743.0 434.2 L746.0 436.4Z" fill="#f0ff00" stroke="#000" stroke-width="1" stroke-linejoin="round"/>
<path d="M750.0 436.4 L751.5 434.2 L753.5 434.2 L755.0 436.4Z" fill="#f0ff00" stroke="#000" stroke-width="1" stroke-linejoin="round"/>
<path d="M759.0 436.4 L763.0 434.2 L765.0 434.2 L769.0 436.4Z" fill="#f0ff00" stroke="#000" stroke-width="1" stroke-linejoin="round"/>
<path d="M611.5 394.5 L613.1 397.3 L612.3 398.8 L612.1 400.8 L610.9 400.8 L610.7 398.8 L609.9 397.3Z" fill="#00f0ff" stroke="#000" stroke-width="1" stroke-linejoin="round"/>
<path d="M517.5 393.0 L518.7 395.2 L518.1 396.0 L518.1 398.0 L516.9 398.0 L516.9 396.0 L516.3 395.2Z" fill="#00f0ff" stroke="#000" stroke-width="1" stroke-linejoin="round"/>
<path d="M432.5 402.5 L435.5 409.5 L434.0 416.0 L433.1 418.0 L431.9 418.0 L431.0 416.0 L429.5 409.5Z" fill="#00f0ff" stroke="#000" stroke-width="1" stroke-linejoin="round"/>
<path d="M441.5 409.0 L443.5 412.8 L442.5 415.5 L442.1 417.5 L440.9 417.5 L440.5 415.5 L439.5 412.8Z" fill="#00f0ff" stroke="#000" stroke-width="1" stroke-linejoin="round"/>
<path d="M451.0 413.5 L454.4 423.6 L452.7 434.0 L451.6 436.0 L450.4 436.0 L449.3 434.0 L447.6 423.6Z" fill="#00f0ff" stroke="#000" stroke-width="1" stroke-linejoin="round"/>
<path d="M458.8 416.0 L462.0 421.4 L460.4 426.0 L459.4 428.0 L458.2 428.0 L457.2 426.0 L455.6 421.4Z" fill="#00f0ff" stroke="#000" stroke-width="1" stroke-linejoin="round"/>
<path d="M467.5 418.0 L469.1 422.1 L468.3 425.0 L468.1 427.0 L466.9 427.0 L466.7 425.0 L465.9 422.1Z" fill="#00f0ff" stroke="#000" stroke-width="1" stroke-linejoin="round"/>
<path d="M479.0 417.5 L481.4 422.9 L480.2 427.5 L479.6 429.5 L478.4 429.5 L477.8 427.5 L476.6 422.9Z" fill="#00f0ff" stroke="#000" stroke-width="1" stroke-linejoin="round"/>
<path d="M492.5 415.6 L495.3 421.2 L493.9 426.0 L493.1 428.0 L491.9 428.0 L491.1 426.0 L489.7 421.2Z" fill="#00f0ff" stroke="#000" stroke-width="1" stroke-linejoin="round"/>
<path d="M505.6 412.5 L508.4 418.8 L507.0 424.5 L506.2 426.5 L505.0 426.5 L504.2 424.5 L502.8 418.8Z" fill="#00f0ff" stroke="#000" stroke-width="1" stroke-linejoin="round"/>
<path d="M517.5 412.5 L520.3 418.6 L518.9 424.0 L518.1 426.0 L516.9 426.0 L516.1 424.0 L514.7 418.6Z" fill="#00f0ff" stroke="#000" stroke-width="1" stroke-linejoin="round"/>
<path d="M542.0 416.0 L544.4 420.1 L543.2 423.0 L542.6 425.0 L541.4 425.0 L540.8 423.0 L539.6 420.1Z" fill="#00ff00" stroke="#000" stroke-width="1" stroke-linejoin="round"/>
<path d="M555.0 413.5 L557.6 419.6 L556.3 425.0 L555.6 427.0 L554.4 427.0 L553.7 425.0 L552.4 419.6Z" fill="#00ff00" stroke="#000" stroke-width="1" stroke-linejoin="round"/>
<path d="M436.0 424.0 L439.2 433.9 L437.3 440.0 L434.7 440.0 L432.8 433.9Z" fill="#0000b4"/>
<path d="M448.0 422.0 L451.8 433.2 L449.5 440.0 L446.5 440.0 L444.2 433.2Z" fill="#0000b4"/>
<path d="M460.0 424.0 L464.2 433.9 L461.7 440.0 L458.3 440.0 L455.8 433.9Z" fill="#0000b4"/>
<path d="M472.0 426.0 L475.6 434.7 L473.4 440.0 L470.6 440.0 L468.4 434.7Z" fill="#0000b4"/>
<path d="M484.0 425.0 L487.8 434.3 L485.5 440.0 L482.5 440.0 L480.2 434.3Z" fill="#0000b4"/>
<path d="M496.0 428.0 L499.2 435.4 L497.3 440.0 L494.7 440.0 L492.8 435.4Z" fill="#0000b4"/>
<path d="M508.0 429.0 L511.0 435.8 L509.2 440.0 L506.8 440.0 L505.0 435.8Z" fill="#0000b4"/>
<path d="M448.0 430.0 L450.2 437.4 L448.9 442.0 L447.1 442.0 L445.8 437.4Z" fill="#4600b4"/>
<path d="M460.0 428.0 L462.6 436.7 L461.0 442.0 L459.0 442.0 L457.4 436.7Z" fill="#4600b4"/>
<path d="M472.0 432.0 L474.0 438.2 L472.8 442.0 L471.2 442.0 L470.0 438.2Z" fill="#4600b4"/>
<path d="M276.0 447.0 L279.0 432.0 L281.0 421.0 L284.0 432.0 L288.0 428.0 L293.5 410.0 L299.0 430.0 L302.0 428.0 L305.5 419.0 L310.0 436.0 L314.0 434.0 L318.0 428.0 L323.0 440.0 L327.0 436.0 L331.6 428.0 L336.0 441.0 L341.0 438.0 L344.8 429.0 L349.0 441.0 L356.0 440.0 L361.0 428.0 L366.0 441.0 L372.0 439.0 L377.0 426.0 L381.0 440.0 L386.0 438.0 L389.0 431.0 L393.0 442.0 L400.0 447.0 L393.0 450.0 L386.0 446.0 L380.0 451.0 L372.0 447.0 L366.0 452.0 L358.0 447.0 L350.0 452.0 L342.0 447.0 L334.0 453.0 L326.0 448.0 L318.0 455.0 L310.0 449.0 L302.0 457.0 L294.0 450.0 L286.0 456.0 L280.0 450.0Z" fill="#000"/>
<path d="M413.0 445.0 L419.0 430.0 L423.8 414.0 L428.0 432.0 L432.0 436.0 L436.0 420.0 L440.0 434.0 L444.0 431.0 L448.0 424.0 L452.0 436.0 L457.0 433.0 L460.0 426.0 L463.8 421.0 L468.0 436.0 L473.0 433.0 L478.0 428.0 L481.0 437.0 L485.0 423.0 L489.0 438.0 L494.0 436.0 L497.0 430.0 L502.0 445.0 L496.0 449.0 L489.0 445.0 L482.0 450.0 L474.0 446.0 L466.0 451.0 L458.0 446.0 L450.0 452.0 L442.0 447.0 L434.0 452.0 L426.0 447.0 L419.0 451.0Z" fill="#000"/>
<path d="M262.6 438.5 L268.0 434.2 L274.2 438.5 L280.4 434.2 L286.6 438.5 L292.8 434.2 L299.0 438.5 L305.2 434.2 L311.4 438.5 L317.6 434.2 L323.8 438.5 L330.0 434.2 L336.2 438.5 L342.4 434.2 L348.2 438.5 L354.0 434.2 L359.8 438.5 L365.6 434.2 L371.4 438.5 L377.2 434.2 L383.0 438.5 L388.8 434.2 L394.6 438.5 L400.4 434.2 L406.2 438.5 L412.0 434.2 L417.8 438.5 L423.6 434.2 L429.4 438.5 L435.2 434.2 L441.0 438.5 L446.8 434.2 L452.5 438.5 L458.1 434.2 L463.8 438.5 L469.4 434.2 L475.1 438.5 L480.7 434.2 L486.4 438.5 L492.0 434.2 L497.7 438.5 L503.3 434.2 L509.3 438.5 L515.2 434.2 L521.2 438.5 L527.1 434.2 L533.1 438.5 L539.0 434.2 L545.0 438.5 L550.9 434.2 L556.9 438.5 L562.8 434.2 L568.8 438.5 L574.7 434.2 L580.7 438.5 L586.6 434.2 L592.5 438.5 L598.5 434.2 L604.5 440.0 L607.5 444.8 L604.5 449.5 L598.5 454.6 L592.5 450.0 L586.6 454.6 L580.7 450.0 L574.7 454.6 L568.8 450.0 L562.8 454.6 L556.9 450.0 L550.9 454.6 L545.0 450.0 L539.0 454.6 L533.1 450.0 L527.1 454.6 L521.2 450.0 L515.2 454.6 L509.3 450.0 L503.3 454.6 L497.7 450.0 L492.0 454.6 L486.4 450.0 L480.7 454.6 L475.1 450.0 L469.4 454.6 L463.8 450.0 L458.1 454.6 L452.5 450.0 L446.8 454.6 L441.0 450.0 L435.2 454.6 L429.4 450.0 L423.6 454.6 L417.8 450.0 L412.0 454.6 L406.2 450.0 L400.4 454.6 L394.6 450.0 L388.8 454.6 L383.0 450.0 L377.2 454.6 L371.4 450.0 L365.6 454.6 L359.8 450.0 L354.0 454.6 L348.2 450.0 L342.4 454.6 L336.2 450.0 L330.0 454.6 L323.8 450.0 L317.6 454.6 L311.4 450.0 L305.2 454.6 L299.0 450.0 L292.8 454.6 L286.6 450.0 L280.4 454.6 L274.2 450.0 L268.0 454.6 L262.6 450.0Z" fill="#00f0ff" stroke="#000" stroke-width="1" stroke-linejoin="round"/>
<path d="M262.6 440.5 L268.0 435.6 L274.2 440.5 L280.4 435.6 L286.6 440.5 L292.8 435.6 L299.0 440.5 L305.2 435.6 L311.4 440.5 L317.6 435.6 L323.8 440.5 L330.0 435.6 L336.2 440.5 L342.4 435.6 L348.2 440.5 L354.0 435.6 L359.8 440.5 L365.6 435.6 L371.4 440.5 L377.2 435.6 L383.0 440.5 L388.8 435.6 L394.6 440.5 L400.4 435.6 L406.2 440.5 L412.0 435.6 L417.8 440.5 L423.6 435.6 L429.4 440.5 L435.2 435.6 L441.0 440.5 L446.8 435.6 L452.5 440.5 L458.1 435.6 L463.8 440.5 L469.4 435.6 L475.1 440.5 L480.7 435.6 L486.4 440.5 L492.0 435.6 L497.7 442.6 L503.3 436.2 L509.3 442.6 L515.2 436.2 L521.2 442.6 L527.1 436.2 L533.1 442.6 L539.0 436.2 L545.0 442.6 L550.9 436.2 L556.9 442.6 L562.8 436.2 L568.8 442.6 L574.7 436.2 L580.7 442.6 L586.6 436.2 L592.5 442.6 L598.5 436.2 L604.5 444.6 L598.5 452.6 L592.5 446.2 L586.6 452.6 L580.7 446.2 L574.7 452.6 L568.8 446.2 L562.8 452.6 L556.9 446.2 L550.9 452.6 L545.0 446.2 L539.0 452.6 L533.1 446.2 L527.1 452.6 L521.2 446.2 L515.2 452.6 L509.3 446.2 L503.3 452.6 L497.7 446.2 L492.0 452.4 L486.4 447.4 L480.7 452.4 L475.1 447.4 L469.4 452.4 L463.8 447.4 L458.1 452.4 L452.5 447.4 L446.8 452.4 L441.0 447.4 L435.2 452.4 L429.4 447.4 L423.6 452.4 L417.8 447.4 L412.0 452.4 L406.2 447.4 L400.4 452.4 L394.6 447.4 L388.8 452.4 L383.0 447.4 L377.2 452.4 L371.4 447.4 L365.6 452.4 L359.8 447.4 L354.0 452.4 L348.2 447.4 L342.4 452.4 L336.2 447.4 L330.0 452.4 L323.8 447.4 L317.6 452.4 L311.4 447.4 L305.2 452.4 L299.0 447.4 L292.8 452.4 L286.6 447.4 L280.4 452.4 L274.2 447.4 L268.0 452.4 L262.6 447.4Z" fill="#0028ff" stroke="#000" stroke-width="1" stroke-linejoin="round"/>
<path d="M262.4 444.4 L268.0 437.4 L273.6 444.4 L268.0 451.4Z" fill="#0000b4" stroke="#000" stroke-width="1" stroke-linejoin="round"/>
<path d="M264.2 444.4 L268.0 439.2 L271.8 444.4 L268.0 449.6Z" fill="#4600b4" stroke="#000" stroke-width="1" stroke-linejoin="round"/>
<path d="M259.0 445.5 L265.5 434.5 L272.0 445.5 L265.5 456.5Z" fill="#0000b4" stroke="#000" stroke-width="1" stroke-linejoin="round"/>
<path d="M260.9 445.5 L265.5 436.5 L270.1 445.5 L265.5 454.5Z" fill="#4600b4" stroke="#000" stroke-width="1" stroke-linejoin="round"/>
<path d="M262.9 445.5 L265.5 440.0 L268.1 445.5 L265.5 451.0Z" fill="#7800aa"/>
<path d="M274.8 444.4 L280.4 437.4 L286.0 444.4 L280.4 451.4Z" fill="#0000b4" stroke="#000" stroke-width="1" stroke-linejoin="round"/>
<path d="M276.6 444.4 L280.4 439.2 L284.2 444.4 L280.4 449.6Z" fill="#4600b4" stroke="#000" stroke-width="1" stroke-linejoin="round"/>
<path d="M278.4 444.0 L280.4 440.8 L282.4 444.0 L280.4 447.2Z" fill="#7800aa"/>
<path d="M279.4 443.6 L280.4 441.4 L281.4 443.6 L280.4 445.8Z" fill="#b400aa"/>
<path d="M287.2 444.4 L292.8 437.4 L298.4 444.4 L292.8 451.4Z" fill="#0000b4" stroke="#000" stroke-width="1" stroke-linejoin="round"/>
<path d="M289.0 444.4 L292.8 439.2 L296.6 444.4 L292.8 449.6Z" fill="#4600b4" stroke="#000" stroke-width="1" stroke-linejoin="round"/>
<path d="M290.8 444.0 L292.8 440.8 L294.8 444.0 L292.8 447.2Z" fill="#7800aa"/>
<path d="M291.8 443.6 L292.8 441.4 L293.8 443.6 L292.8 445.8Z" fill="#b400aa"/>
<path d="M299.6 444.4 L305.2 437.4 L310.8 444.4 L305.2 451.4Z" fill="#0000b4" stroke="#000" stroke-width="1" stroke-linejoin="round"/>
<path d="M301.4 444.4 L305.2 439.2 L309.0 444.4 L305.2 449.6Z" fill="#4600b4" stroke="#000" stroke-width="1" stroke-linejoin="round"/>
<path d="M303.2 444.0 L305.2 440.8 L307.2 444.0 L305.2 447.2Z" fill="#7800aa"/>
<path d="M304.2 443.6 L305.2 441.4 L306.2 443.6 L305.2 445.8Z" fill="#b400aa"/>
<path d="M312.0 444.4 L317.6 437.4 L323.2 444.4 L317.6 451.4Z" fill="#0000b4" stroke="#000" stroke-width="1" stroke-linejoin="round"/>
<path d="M313.8 444.4 L317.6 439.2 L321.4 444.4 L317.6 449.6Z" fill="#4600b4" stroke="#000" stroke-width="1" stroke-linejoin="round"/>
<path d="M315.6 444.0 L317.6 440.8 L319.6 444.0 L317.6 447.2Z" fill="#7800aa"/>
<path d="M316.6 443.6 L317.6 441.4 L318.6 443.6 L317.6 445.8Z" fill="#b400aa"/>
<path d="M324.4 444.4 L330.0 437.4 L335.6 444.4 L330.0 451.4Z" fill="#0000b4" stroke="#000" stroke-width="1" stroke-linejoin="round"/>
<path d="M326.2 444.4 L330.0 439.2 L333.8 444.4 L330.0 449.6Z" fill="#4600b4" stroke="#000" stroke-width="1" stroke-linejoin="round"/>
<path d="M328.0 444.0 L330.0 440.8 L332.0 444.0 L330.0 447.2Z" fill="#7800aa"/>
<path d="M329.0 443.6 L330.0 441.4 L331.0 443.6 L330.0 445.8Z" fill="#b400aa"/>
<path d="M336.8 444.4 L342.4 437.4 L348.0 444.4 L342.4 451.4Z" fill="#0000b4" stroke="#000" stroke-width="1" stroke-linejoin="round"/>
<path d="M338.6 444.4 L342.4 439.2 L346.2 444.4 L342.4 449.6Z" fill="#4600b4" stroke="#000" stroke-width="1" stroke-linejoin="round"/>
<path d="M340.4 444.0 L342.4 440.8 L344.4 444.0 L342.4 447.2Z" fill="#7800aa"/>
<path d="M348.4 444.4 L354.0 437.4 L359.6 444.4 L354.0 451.4Z" fill="#0000b4" stroke="#000" stroke-width="1" stroke-linejoin="round"/>
<path d="M350.2 444.4 L354.0 439.2 L357.8 444.4 L354.0 449.6Z" fill="#4600b4" stroke="#000" stroke-width="1" stroke-linejoin="round"/>
<path d="M352.0 444.0 L354.0 440.8 L356.0 444.0 L354.0 447.2Z" fill="#7800aa"/>
<path d="M360.0 444.4 L365.6 437.4 L371.2 444.4 L365.6 451.4Z" fill="#0000b4" stroke="#000" stroke-width="1" stroke-linejoin="round"/>
<path d="M361.8 444.4 L365.6 439.2 L369.4 444.4 L365.6 449.6Z" fill="#4600b4" stroke="#000" stroke-width="1" stroke-linejoin="round"/>
<path d="M363.6 444.0 L365.6 440.8 L367.6 444.0 L365.6 447.2Z" fill="#7800aa"/>
<path d="M371.6 444.4 L377.2 437.4 L382.8 444.4 L377.2 451.4Z" fill="#0000b4" stroke="#000" stroke-width="1" stroke-linejoin="round"/>
<path d="M373.4 444.4 L377.2 439.2 L381.0 444.4 L377.2 449.6Z" fill="#4600b4" stroke="#000" stroke-width="1" stroke-linejoin="round"/>
<path d="M375.2 444.0 L377.2 440.8 L379.2 444.0 L377.2 447.2Z" fill="#7800aa"/>
<path d="M383.2 444.4 L388.8 437.4 L394.4 444.4 L388.8 451.4Z" fill="#0000b4" stroke="#000" stroke-width="1" stroke-linejoin="round"/>
<path d="M385.0 444.4 L388.8 439.2 L392.6 444.4 L388.8 449.6Z" fill="#4600b4" stroke="#000" stroke-width="1" stroke-linejoin="round"/>
<path d="M386.8 444.0 L388.8 440.8 L390.8 444.0 L388.8 447.2Z" fill="#7800aa"/>
<path d="M395.6 444.4 L400.4 438.2 L405.2 444.4 L400.4 450.6Z" fill="#0000b4" stroke="#000" stroke-width="1" stroke-linejoin="round"/>
<path d="M397.4 444.4 L400.4 440.0 L403.4 444.4 L400.4 448.8Z" fill="#4600b4" stroke="#000" stroke-width="1" stroke-linejoin="round"/>
<path d="M407.2 444.4 L412.0 438.2 L416.8 444.4 L412.0 450.6Z" fill="#0000b4" stroke="#000" stroke-width="1" stroke-linejoin="round"/>
<path d="M409.0 444.4 L412.0 440.0 L415.0 444.4 L412.0 448.8Z" fill="#4600b4" stroke="#000" stroke-width="1" stroke-linejoin="round"/>
<path d="M418.8 444.4 L423.6 438.2 L428.4 444.4 L423.6 450.6Z" fill="#0000b4" stroke="#000" stroke-width="1" stroke-linejoin="round"/>
<path d="M420.6 444.4 L423.6 440.0 L426.6 444.4 L423.6 448.8Z" fill="#4600b4" stroke="#000" stroke-width="1" stroke-linejoin="round"/>
<path d="M430.4 444.4 L435.2 438.2 L440.0 444.4 L435.2 450.6Z" fill="#0000b4" stroke="#000" stroke-width="1" stroke-linejoin="round"/>
<path d="M432.2 444.4 L435.2 440.0 L438.2 444.4 L435.2 448.8Z" fill="#4600b4" stroke="#000" stroke-width="1" stroke-linejoin="round"/>
<path d="M442.0 444.4 L446.8 438.2 L451.6 444.4 L446.8 450.6Z" fill="#0000b4" stroke="#000" stroke-width="1" stroke-linejoin="round"/>
<path d="M443.8 444.4 L446.8 440.0 L449.8 444.4 L446.8 448.8Z" fill="#4600b4" stroke="#000" stroke-width="1" stroke-linejoin="round"/>
<path d="M453.3 444.4 L458.1 438.2 L462.9 444.4 L458.1 450.6Z" fill="#0000b4" stroke="#000" stroke-width="1" stroke-linejoin="round"/>
<path d="M455.1 444.4 L458.1 440.0 L461.1 444.4 L458.1 448.8Z" fill="#4600b4" stroke="#000" stroke-width="1" stroke-linejoin="round"/>
<path d="M464.6 444.4 L469.4 438.2 L474.2 444.4 L469.4 450.6Z" fill="#0000b4" stroke="#000" stroke-width="1" stroke-linejoin="round"/>
<path d="M466.4 444.4 L469.4 440.0 L472.4 444.4 L469.4 448.8Z" fill="#4600b4" stroke="#000" stroke-width="1" stroke-linejoin="round"/>
<path d="M475.9 444.4 L480.7 438.2 L485.5 444.4 L480.7 450.6Z" fill="#0000b4" stroke="#000" stroke-width="1" stroke-linejoin="round"/>
<path d="M477.7 444.4 L480.7 440.0 L483.7 444.4 L480.7 448.8Z" fill="#4600b4" stroke="#000" stroke-width="1" stroke-linejoin="round"/>
<path d="M487.2 444.4 L492.0 438.2 L496.8 444.4 L492.0 450.6Z" fill="#0000b4" stroke="#000" stroke-width="1" stroke-linejoin="round"/>
<path d="M489.0 444.4 L492.0 440.0 L495.0 444.4 L492.0 448.8Z" fill="#4600b4" stroke="#000" stroke-width="1" stroke-linejoin="round"/>
<path d="M499.9 444.4 L503.3 440.0 L506.7 444.4 L503.3 448.8Z" fill="#0000b4" stroke="#000" stroke-width="1" stroke-linejoin="round"/>
<path d="M501.8 444.4 L503.3 442.2 L504.8 444.4 L503.3 446.6Z" fill="#4600b4"/>
<path d="M511.8 444.4 L515.2 440.0 L518.6 444.4 L515.2 448.8Z" fill="#0000b4" stroke="#000" stroke-width="1" stroke-linejoin="round"/>
<path d="M513.7 444.4 L515.2 442.2 L516.7 444.4 L515.2 446.6Z" fill="#4600b4"/>
<path d="M523.7 444.4 L527.1 440.0 L530.5 444.4 L527.1 448.8Z" fill="#0000b4" stroke="#000" stroke-width="1" stroke-linejoin="round"/>
<path d="M525.6 444.4 L527.1 442.2 L528.6 444.4 L527.1 446.6Z" fill="#4600b4"/>
<path d="M535.6 444.4 L539.0 440.0 L542.4 444.4 L539.0 448.8Z" fill="#0000b4" stroke="#000" stroke-width="1" stroke-linejoin="round"/>
<path d="M537.5 444.4 L539.0 442.2 L540.5 444.4 L539.0 446.6Z" fill="#4600b4"/>
<path d="M547.5 444.4 L550.9 440.0 L554.3 444.4 L550.9 448.8Z" fill="#0000b4" stroke="#000" stroke-width="1" stroke-linejoin="round"/>
<path d="M549.4 444.4 L550.9 442.2 L552.4 444.4 L550.9 446.6Z" fill="#4600b4"/>
<path d="M559.4 444.4 L562.8 440.0 L566.2 444.4 L562.8 448.8Z" fill="#0000b4" stroke="#000" stroke-width="1" stroke-linejoin="round"/>
<path d="M561.3 444.4 L562.8 442.2 L564.3 444.4 L562.8 446.6Z" fill="#4600b4"/>
<path d="M571.3 444.4 L574.7 440.0 L578.1 444.4 L574.7 448.8Z" fill="#0000b4" stroke="#000" stroke-width="1" stroke-linejoin="round"/>
<path d="M573.2 444.4 L574.7 442.2 L576.2 444.4 L574.7 446.6Z" fill="#4600b4"/>
<path d="M583.2 444.4 L586.6 440.0 L590.0 444.4 L586.6 448.8Z" fill="#0000b4" stroke="#000" stroke-width="1" stroke-linejoin="round"/>
<path d="M585.1 444.4 L586.6 442.2 L588.1 444.4 L586.6 446.6Z" fill="#4600b4"/>
<path d="M595.1 444.4 L598.5 440.0 L601.9 444.4 L598.5 448.8Z" fill="#0000b4" stroke="#000" stroke-width="1" stroke-linejoin="round"/>
<path d="M597.0 444.4 L598.5 442.2 L600.0 444.4 L598.5 446.6Z" fill="#4600b4"/>
<path d="M282.8 444.0 L285.0 439.5 L287.2 444.0 L285.0 448.5Z" fill="#7800aa"/>
<path d="M292.1 440.0 L293.5 433.0 L294.9 440.0 L293.5 447.0Z" fill="#b400aa"/>
<path d="M297.0 446.0 L299.0 442.0 L301.0 446.0 L299.0 450.0Z" fill="#7800aa"/>
<path d="M303.9 442.0 L305.5 436.0 L307.1 442.0 L305.5 448.0Z" fill="#7800aa"/>
<path d="M309.6 447.0 L312.0 443.0 L314.4 447.0 L312.0 451.0Z" fill="#4600b4"/>
<path d="M316.5 443.0 L318.3 438.0 L320.1 443.0 L318.3 448.0Z" fill="#7800aa"/>
<path d="M322.4 447.0 L325.0 443.0 L327.6 447.0 L325.0 451.0Z" fill="#4600b4"/>
<path d="M330.0 443.0 L331.6 438.5 L333.2 443.0 L331.6 447.5Z" fill="#7800aa"/>
<path d="M335.4 447.0 L338.0 443.4 L340.6 447.0 L338.0 450.6Z" fill="#4600b4"/>
<path d="M342.8 443.0 L344.8 438.5 L346.8 443.0 L344.8 447.5Z" fill="#4600b4"/>
<path d="M349.4 447.0 L352.0 443.4 L354.6 447.0 L352.0 450.6Z" fill="#4600b4"/>
<path d="M359.0 443.0 L361.0 438.5 L363.0 443.0 L361.0 447.5Z" fill="#4600b4"/>
<path d="M366.4 447.0 L369.0 443.6 L371.6 447.0 L369.0 450.4Z" fill="#4600b4"/>
<path d="M375.2 442.0 L377.0 437.5 L378.8 442.0 L377.0 446.5Z" fill="#4600b4"/>
<path d="M382.4 446.0 L385.0 442.6 L387.6 446.0 L385.0 449.4Z" fill="#4600b4"/>
<path d="M390.4 446.0 L393.0 443.0 L395.6 446.0 L393.0 449.0Z" fill="#0028ff"/>
<path d="M418.4 441.0 L421.0 437.0 L423.6 441.0 L421.0 445.0Z" fill="#4600b4"/>
<path d="M425.2 445.0 L428.0 441.8 L430.8 445.0 L428.0 448.2Z" fill="#0000b4"/>
<path d="M433.6 440.0 L436.0 435.5 L438.4 440.0 L436.0 444.5Z" fill="#4600b4"/>
<path d="M441.2 444.0 L444.0 440.0 L446.8 444.0 L444.0 448.0Z" fill="#4600b4"/>
<path d="M449.8 441.0 L452.0 437.4 L454.2 441.0 L452.0 444.6Z" fill="#4600b4"/>
<path d="M457.0 444.0 L460.0 439.8 L463.0 444.0 L460.0 448.2Z" fill="#4600b4"/>
<path d="M465.6 441.0 L468.0 437.4 L470.4 441.0 L468.0 444.6Z" fill="#0000b4"/>
<path d="M473.2 444.0 L476.0 440.2 L478.8 444.0 L476.0 447.8Z" fill="#4600b4"/>
<path d="M482.8 441.0 L485.0 437.4 L487.2 441.0 L485.0 444.6Z" fill="#0000b4"/>
<path d="M490.4 444.0 L493.0 440.4 L495.6 444.0 L493.0 447.6Z" fill="#4600b4"/>
<path d="M429.0 424.0 L431.2 425.0 L435.2 437.0 L433.0 436.0Z" fill="#00f0ff"/>
<path d="M440.0 421.0 L442.0 422.0 L439.0 432.0 L437.0 431.0Z" fill="#00f0ff"/>
<path d="M449.0 415.0 L451.6 416.0 L447.6 430.0 L445.0 429.0Z" fill="#00f0ff"/>
<path d="M456.0 428.0 L458.0 429.0 L455.0 440.0 L453.0 439.0Z" fill="#00f0ff"/>
<path d="M465.0 424.0 L466.8 425.0 L463.8 434.0 L462.0 433.0Z" fill="#00f0ff"/>
<path d="M472.0 431.0 L473.8 432.0 L471.8 440.0 L470.0 439.0Z" fill="#00f0ff"/>
<path d="M480.0 420.0 L481.6 421.0 L479.6 427.0 L478.0 426.0Z" fill="#00f0ff"/>
<path d="M417.0 428.0 L419.4 429.0 L423.4 441.0 L421.0 440.0Z" fill="#00f0ff"/>
<path d="M300.0 424.0 L301.8 425.0 L304.8 434.0 L303.0 433.0Z" fill="#00f0ff"/>
<path d="M313.0 430.0 L315.0 431.0 L318.0 441.0 L316.0 440.0Z" fill="#00f0ff"/>
<path d="M340.0 432.0 L341.6 433.0 L343.6 440.0 L342.0 439.0Z" fill="#00f0ff"/>
<path d="M370.0 431.0 L371.6 432.0 L373.6 439.0 L372.0 438.0Z" fill="#00f0ff"/>
<path d="M281.0 422.0 L284.2 441.2 L282.3 453.0 L279.7 453.0 L277.8 441.2Z" fill="#000"/>
<path d="M281.0 435.9 L282.1 444.7 L281.4 450.0 L280.6 450.0 L279.9 444.7Z" fill="#b400aa"/>
<path d="M293.5 410.5 L298.3 437.5 L295.4 454.0 L291.6 454.0 L288.7 437.5Z" fill="#000"/>
<path d="M293.5 430.1 L295.2 443.0 L294.2 451.0 L292.8 451.0 L291.8 443.0Z" fill="#b400aa"/>
<path d="M305.5 420.0 L309.1 440.5 L306.9 453.0 L304.1 453.0 L301.9 440.5Z" fill="#000"/>
<path d="M305.5 434.9 L306.8 444.2 L306.0 450.0 L305.0 450.0 L304.2 444.2Z" fill="#7800aa"/>
<path d="M318.3 429.5 L322.1 443.4 L319.8 452.0 L316.8 452.0 L314.5 443.4Z" fill="#000"/>
<path d="M318.3 439.6 L319.6 445.4 L318.8 449.0 L317.8 449.0 L317.0 445.4Z" fill="#7800aa"/>
<path d="M331.6 428.5 L335.8 442.4 L333.3 451.0 L329.9 451.0 L327.4 442.4Z" fill="#000"/>
<path d="M331.6 438.6 L333.1 444.4 L332.2 448.0 L331.0 448.0 L330.1 444.4Z" fill="#7800aa"/>
<path d="M344.8 430.0 L348.4 442.4 L346.2 450.0 L343.4 450.0 L341.2 442.4Z" fill="#000"/>
<path d="M344.8 439.0 L346.1 444.0 L345.3 447.0 L344.3 447.0 L343.5 444.0Z" fill="#7800aa"/>
<path d="M361.0 428.5 L365.2 441.2 L362.7 449.0 L359.3 449.0 L356.8 441.2Z" fill="#000"/>
<path d="M361.0 437.7 L362.5 442.9 L361.6 446.0 L360.4 446.0 L359.5 442.9Z" fill="#4600b4"/>
<path d="M377.0 426.5 L380.4 439.8 L378.4 448.0 L375.6 448.0 L373.6 439.8Z" fill="#000"/>
<path d="M377.0 436.2 L378.2 441.6 L377.5 445.0 L376.5 445.0 L375.8 441.6Z" fill="#4600b4"/>
<path d="M389.0 431.0 L391.6 441.5 L390.0 448.0 L388.0 448.0 L386.4 441.5Z" fill="#000"/>
<path d="M389.0 438.6 L389.9 442.6 L389.4 445.0 L388.6 445.0 L388.1 442.6Z" fill="#4600b4"/>
<path d="M423.8 414.0 L427.6 433.8 L425.3 446.0 L422.3 446.0 L420.0 433.8Z" fill="#000"/>
<path d="M423.8 428.4 L425.1 437.5 L424.3 443.0 L423.3 443.0 L422.5 437.5Z" fill="#0000b4"/>
<path d="M436.0 419.5 L438.2 434.7 L436.9 444.0 L435.1 444.0 L433.8 434.7Z" fill="#000"/>
<path d="M436.0 430.5 L436.8 437.0 L436.3 441.0 L435.7 441.0 L435.2 437.0Z" fill="#0000b4"/>
<path d="M448.0 425.0 L450.6 436.8 L449.0 444.0 L447.0 444.0 L445.4 436.8Z" fill="#000"/>
<path d="M448.0 433.6 L448.9 438.2 L448.4 441.0 L447.6 441.0 L447.1 438.2Z" fill="#0000b4"/>
<path d="M463.8 420.5 L465.8 433.8 L464.6 442.0 L463.0 442.0 L461.8 433.8Z" fill="#000"/>
<path d="M463.8 430.2 L464.5 435.6 L464.1 439.0 L463.5 439.0 L463.1 435.6Z" fill="#0000b4"/>
<path d="M485.0 423.0 L487.0 435.4 L485.8 443.0 L484.2 443.0 L483.0 435.4Z" fill="#000"/>
<path d="M485.0 432.0 L485.7 437.0 L485.3 440.0 L484.7 440.0 L484.3 437.0Z" fill="#0000b4"/>
<path d="M299.0 405.0 L300.1 430.0 L297.9 430.0Z" fill="#000"/>
<path d="M311.0 412.0 L312.1 432.0 L309.9 432.0Z" fill="#000"/>
<path d="M324.0 418.0 L325.1 436.0 L322.9 436.0Z" fill="#000"/>
<path d="M338.0 421.0 L339.1 436.0 L336.9 436.0Z" fill="#000"/>
<path d="M351.0 423.0 L352.1 436.0 L349.9 436.0Z" fill="#000"/>
<path d="M368.0 424.0 L369.1 436.0 L366.9 436.0Z" fill="#000"/>
<path d="M383.0 425.0 L384.1 436.0 L381.9 436.0Z" fill="#000"/>
<path d="M404.0 424.0 L405.1 438.0 L402.9 438.0Z" fill="#000"/>
<path d="M413.0 420.0 L414.1 438.0 L411.9 438.0Z" fill="#000"/>
<path d="M430.0 418.0 L431.1 438.0 L428.9 438.0Z" fill="#000"/>
<path d="M442.0 421.0 L443.1 438.0 L440.9 438.0Z" fill="#000"/>
<path d="M455.0 419.0 L456.1 438.0 L453.9 438.0Z" fill="#000"/>
<path d="M471.0 423.0 L472.1 438.0 L469.9 438.0Z" fill="#000"/>
<path d="M307.0 438.0 L312.3 441.5 L307.0 445.0Z" fill="#00f0ff"/>
<path d="M323.5 436.5 L328.8 440.0 L323.5 443.5Z" fill="#00f0ff"/>
<path d="M322.5 446.5 L327.8 450.0 L322.5 453.5Z" fill="#00f0ff"/>
<path d="M353.5 442.5 L358.8 446.0 L353.5 449.5Z" fill="#00f0ff"/>
<path d="M389.5 437.5 L394.8 441.0 L389.5 444.5Z" fill="#00f0ff"/>
<path d="M344.5 449.5 L349.8 453.0 L344.5 456.5Z" fill="#00f0ff"/>
<path d="M306.5 419.0 L310.5 431.0 L305.7 430.0Z" fill="#00f0ff"/>
<path d="M321.0 424.0 L325.5 441.0 L320.1 440.0Z" fill="#00f0ff"/>
<path d="M363.0 420.0 L367.0 432.0 L362.2 431.0Z" fill="#00f0ff"/>
<path d="M376.0 424.0 L379.0 432.0 L375.4 431.0Z" fill="#00f0ff"/>
<path d="M262.2 461.5 L266.5 451.5 L269.8 458.5 L268.3 461.5Z" fill="#f0ff00" stroke="#000" stroke-width="1" stroke-linejoin="round"/>
<path d="M274.7 461.5 L278.4 454.0 L281.1 459.2 L279.8 461.5Z" fill="#f0ff00" stroke="#000" stroke-width="1" stroke-linejoin="round"/>
<path d="M285.4 461.5 L290.3 450.0 L294.2 458.1 L292.4 461.5Z" fill="#f0ff00" stroke="#000" stroke-width="1" stroke-linejoin="round"/>
<path d="M299.7 461.5 L302.2 456.0 L303.7 459.9 L302.9 461.5Z" fill="#f0ff00" stroke="#000" stroke-width="1" stroke-linejoin="round"/>
<path d="M311.2 461.5 L314.1 454.0 L316.0 459.2 L315.0 461.5Z" fill="#f0ff00" stroke="#000" stroke-width="1" stroke-linejoin="round"/>
<path d="M322.7 461.5 L326.0 452.5 L328.3 458.8 L327.2 461.5Z" fill="#f0ff00" stroke="#000" stroke-width="1" stroke-linejoin="round"/>
<path d="M335.6 461.5 L337.9 456.5 L339.2 460.0 L338.5 461.5Z" fill="#f0ff00" stroke="#000" stroke-width="1" stroke-linejoin="round"/>
<path d="M347.0 461.5 L349.8 453.5 L351.6 459.1 L350.7 461.5Z" fill="#f0ff00" stroke="#000" stroke-width="1" stroke-linejoin="round"/>
<path d="M358.6 461.5 L361.7 453.0 L363.8 458.9 L362.8 461.5Z" fill="#f0ff00" stroke="#000" stroke-width="1" stroke-linejoin="round"/>
<path d="M371.1 461.5 L373.6 455.5 L375.1 459.7 L374.3 461.5Z" fill="#f0ff00" stroke="#000" stroke-width="1" stroke-linejoin="round"/>
<path d="M381.8 461.5 L385.5 451.5 L388.2 458.5 L386.9 461.5Z" fill="#f0ff00" stroke="#000" stroke-width="1" stroke-linejoin="round"/>
<path d="M394.9 461.5 L397.4 456.0 L398.9 459.9 L398.1 461.5Z" fill="#f0ff00" stroke="#000" stroke-width="1" stroke-linejoin="round"/>
<path d="M407.2 461.5 L409.3 456.0 L410.4 459.9 L409.8 461.5Z" fill="#f0ff00" stroke="#000" stroke-width="1" stroke-linejoin="round"/>
<path d="M418.7 461.5 L421.2 454.5 L422.7 459.4 L421.9 461.5Z" fill="#f0ff00" stroke="#000" stroke-width="1" stroke-linejoin="round"/>
<path d="M431.6 461.5 L433.1 458.5 L433.6 460.6 L433.2 461.5Z" fill="#f0ff00" stroke="#000" stroke-width="1" stroke-linejoin="round"/>
<path d="M443.0 461.5 L445.0 455.5 L446.0 459.7 L445.4 461.5Z" fill="#f0ff00" stroke="#000" stroke-width="1" stroke-linejoin="round"/>
<path d="M454.6 461.5 L456.9 455.0 L458.2 459.6 L457.5 461.5Z" fill="#f0ff00" stroke="#000" stroke-width="1" stroke-linejoin="round"/>
<path d="M467.1 461.5 L468.8 457.5 L469.5 460.3 L469.0 461.5Z" fill="#f0ff00" stroke="#000" stroke-width="1" stroke-linejoin="round"/>
<path d="M477.8 461.5 L480.7 453.5 L482.6 459.1 L481.6 461.5Z" fill="#f0ff00" stroke="#000" stroke-width="1" stroke-linejoin="round"/>
<path d="M490.9 461.5 L492.6 458.0 L493.3 460.4 L492.8 461.5Z" fill="#f0ff00" stroke="#000" stroke-width="1" stroke-linejoin="round"/>
<path d="M502.4 461.5 L504.5 456.0 L505.6 459.9 L505.0 461.5Z" fill="#f0ff00" stroke="#000" stroke-width="1" stroke-linejoin="round"/>
<path d="M513.9 461.5 L516.4 454.5 L517.9 459.4 L517.1 461.5Z" fill="#f0ff00" stroke="#000" stroke-width="1" stroke-linejoin="round"/>
<path d="M526.8 461.5 L528.3 458.5 L528.8 460.6 L528.4 461.5Z" fill="#f0ff00" stroke="#000" stroke-width="1" stroke-linejoin="round"/>
<path d="M538.2 461.5 L540.2 455.5 L541.2 459.7 L540.6 461.5Z" fill="#f0ff00" stroke="#000" stroke-width="1" stroke-linejoin="round"/>
<path d="M549.8 461.5 L552.1 455.0 L553.4 459.6 L552.7 461.5Z" fill="#f0ff00" stroke="#000" stroke-width="1" stroke-linejoin="round"/>
<path d="M562.3 461.5 L564.0 457.5 L564.7 460.3 L564.2 461.5Z" fill="#f0ff00" stroke="#000" stroke-width="1" stroke-linejoin="round"/>
<path d="M573.0 461.5 L575.9 453.5 L577.8 459.1 L576.8 461.5Z" fill="#f0ff00" stroke="#000" stroke-width="1" stroke-linejoin="round"/>
<path d="M304.4 452.0 L305.6 452.0 L305.6 459.0 L304.4 459.0Z" fill="#000"/>
<path d="M328.2 452.0 L329.4 452.0 L329.4 459.0 L328.2 459.0Z" fill="#000"/>
<path d="M352.0 452.0 L353.2 452.0 L353.2 459.0 L352.0 459.0Z" fill="#000"/>
<path d="M375.8 452.0 L377.0 452.0 L377.0 459.0 L375.8 459.0Z" fill="#000"/>
<path d="M399.6 452.0 L400.8 452.0 L400.8 459.0 L399.6 459.0Z" fill="#000"/>
<path d="M423.4 452.0 L424.6 452.0 L424.6 459.0 L423.4 459.0Z" fill="#000"/>
<path d="M447.2 452.0 L448.4 452.0 L448.4 459.0 L447.2 459.0Z" fill="#000"/>
<path d="M471.0 452.0 L472.2 452.0 L472.2 459.0 L471.0 459.0Z" fill="#000"/>
<path d="M494.8 452.0 L496.0 452.0 L496.0 459.0 L494.8 459.0Z" fill="#000"/>
<path d="M518.6 452.0 L519.8 452.0 L519.8 459.0 L518.6 459.0Z" fill="#000"/>
<path d="M542.4 452.0 L543.6 452.0 L543.6 459.0 L542.4 459.0Z" fill="#000"/>
<path d="M566.2 452.0 L567.4 452.0 L567.4 459.0 L566.2 459.0Z" fill="#000"/>
</g>
<g shape-rendering="crispEdges">
<line x1="155.5" y1="146.0" x2="155.5" y2="152.0" stroke="#000" stroke-width="1"/>
<line x1="155.5" y1="463.0" x2="155.5" y2="457.0" stroke="#000" stroke-width="1"/>
<line x1="176.0" y1="146.0" x2="176.0" y2="156.0" stroke="#000" stroke-width="2"/>
<line x1="176.0" y1="463.0" x2="176.0" y2="453.0" stroke="#000" stroke-width="2"/>
<line x1="198.5" y1="146.0" x2="198.5" y2="152.0" stroke="#000" stroke-width="1"/>
<line x1="198.5" y1="463.0" x2="198.5" y2="457.0" stroke="#000" stroke-width="1"/>
<line x1="219.0" y1="146.0" x2="219.0" y2="156.0" stroke="#000" stroke-width="2"/>
<line x1="219.0" y1="463.0" x2="219.0" y2="453.0" stroke="#000" stroke-width="2"/>
<line x1="240.5" y1="146.0" x2="240.5" y2="152.0" stroke="#000" stroke-width="1"/>
<line x1="240.5" y1="463.0" x2="240.5" y2="457.0" stroke="#000" stroke-width="1"/>
<line x1="261.0" y1="146.0" x2="261.0" y2="156.0" stroke="#000" stroke-width="2"/>
<line x1="261.0" y1="463.0" x2="261.0" y2="453.0" stroke="#000" stroke-width="2"/>
<line x1="282.5" y1="146.0" x2="282.5" y2="152.0" stroke="#000" stroke-width="1"/>
<line x1="282.5" y1="463.0" x2="282.5" y2="457.0" stroke="#000" stroke-width="1"/>
<line x1="304.0" y1="146.0" x2="304.0" y2="156.0" stroke="#000" stroke-width="2"/>
<line x1="304.0" y1="463.0" x2="304.0" y2="453.0" stroke="#000" stroke-width="2"/>
<line x1="325.5" y1="146.0" x2="325.5" y2="152.0" stroke="#000" stroke-width="1"/>
<line x1="325.5" y1="463.0" x2="325.5" y2="457.0" stroke="#000" stroke-width="1"/>
<line x1="346.0" y1="146.0" x2="346.0" y2="156.0" stroke="#000" stroke-width="2"/>
<line x1="346.0" y1="463.0" x2="346.0" y2="453.0" stroke="#000" stroke-width="2"/>
<line x1="367.5" y1="146.0" x2="367.5" y2="152.0" stroke="#000" stroke-width="1"/>
<line x1="367.5" y1="463.0" x2="367.5" y2="457.0" stroke="#000" stroke-width="1"/>
<line x1="389.0" y1="146.0" x2="389.0" y2="156.0" stroke="#000" stroke-width="2"/>
<line x1="389.0" y1="463.0" x2="389.0" y2="453.0" stroke="#000" stroke-width="2"/>
<line x1="410.5" y1="146.0" x2="410.5" y2="152.0" stroke="#000" stroke-width="1"/>
<line x1="410.5" y1="463.0" x2="410.5" y2="457.0" stroke="#000" stroke-width="1"/>
<line x1="431.0" y1="146.0" x2="431.0" y2="156.0" stroke="#000" stroke-width="2"/>
<line x1="431.0" y1="463.0" x2="431.0" y2="453.0" stroke="#000" stroke-width="2"/>
<line x1="452.5" y1="146.0" x2="452.5" y2="152.0" stroke="#000" stroke-width="1"/>
<line x1="452.5" y1="463.0" x2="452.5" y2="457.0" stroke="#000" stroke-width="1"/>
<line x1="474.0" y1="146.0" x2="474.0" y2="156.0" stroke="#000" stroke-width="2"/>
<line x1="474.0" y1="463.0" x2="474.0" y2="453.0" stroke="#000" stroke-width="2"/>
<line x1="495.5" y1="146.0" x2="495.5" y2="152.0" stroke="#000" stroke-width="1"/>
<line x1="495.5" y1="463.0" x2="495.5" y2="457.0" stroke="#000" stroke-width="1"/>
<line x1="516.0" y1="146.0" x2="516.0" y2="156.0" stroke="#000" stroke-width="2"/>
<line x1="516.0" y1="463.0" x2="516.0" y2="453.0" stroke="#000" stroke-width="2"/>
<line x1="537.5" y1="146.0" x2="537.5" y2="152.0" stroke="#000" stroke-width="1"/>
<line x1="537.5" y1="463.0" x2="537.5" y2="457.0" stroke="#000" stroke-width="1"/>
<line x1="558.0" y1="146.0" x2="558.0" y2="156.0" stroke="#000" stroke-width="2"/>
<line x1="558.0" y1="463.0" x2="558.0" y2="453.0" stroke="#000" stroke-width="2"/>
<line x1="580.5" y1="146.0" x2="580.5" y2="152.0" stroke="#000" stroke-width="1"/>
<line x1="580.5" y1="463.0" x2="580.5" y2="457.0" stroke="#000" stroke-width="1"/>
<line x1="601.0" y1="146.0" x2="601.0" y2="156.0" stroke="#000" stroke-width="2"/>
<line x1="601.0" y1="463.0" x2="601.0" y2="453.0" stroke="#000" stroke-width="2"/>
<line x1="622.5" y1="146.0" x2="622.5" y2="152.0" stroke="#000" stroke-width="1"/>
<line x1="622.5" y1="463.0" x2="622.5" y2="457.0" stroke="#000" stroke-width="1"/>
<line x1="643.0" y1="146.0" x2="643.0" y2="156.0" stroke="#000" stroke-width="2"/>
<line x1="643.0" y1="463.0" x2="643.0" y2="453.0" stroke="#000" stroke-width="2"/>
<line x1="665.5" y1="146.0" x2="665.5" y2="152.0" stroke="#000" stroke-width="1"/>
<line x1="665.5" y1="463.0" x2="665.5" y2="457.0" stroke="#000" stroke-width="1"/>
<line x1="686.0" y1="146.0" x2="686.0" y2="156.0" stroke="#000" stroke-width="2"/>
<line x1="686.0" y1="463.0" x2="686.0" y2="453.0" stroke="#000" stroke-width="2"/>
<line x1="707.5" y1="146.0" x2="707.5" y2="152.0" stroke="#000" stroke-width="1"/>
<line x1="707.5" y1="463.0" x2="707.5" y2="457.0" stroke="#000" stroke-width="1"/>
<line x1="728.0" y1="146.0" x2="728.0" y2="156.0" stroke="#000" stroke-width="2"/>
<line x1="728.0" y1="463.0" x2="728.0" y2="453.0" stroke="#000" stroke-width="2"/>
<line x1="750.5" y1="146.0" x2="750.5" y2="152.0" stroke="#000" stroke-width="1"/>
<line x1="750.5" y1="463.0" x2="750.5" y2="457.0" stroke="#000" stroke-width="1"/>
<line x1="136.0" y1="449.5" x2="141.0" y2="449.5" stroke="#000" stroke-width="1"/>
<line x1="768.0" y1="449.5" x2="763.0" y2="449.5" stroke="#000" stroke-width="1"/>
<line x1="136.0" y1="431.5" x2="141.0" y2="431.5" stroke="#000" stroke-width="1"/>
<line x1="768.0" y1="431.5" x2="763.0" y2="431.5" stroke="#000" stroke-width="1"/>
<line x1="136.0" y1="413.5" x2="141.0" y2="413.5" stroke="#000" stroke-width="1"/>
<line x1="768.0" y1="413.5" x2="763.0" y2="413.5" stroke="#000" stroke-width="1"/>
<line x1="136.0" y1="395.5" x2="141.0" y2="395.5" stroke="#000" stroke-width="1"/>
<line x1="768.0" y1="395.5" x2="763.0" y2="395.5" stroke="#000" stroke-width="1"/>
<line x1="136.0" y1="377.0" x2="145.0" y2="377.0" stroke="#000" stroke-width="2"/>
<line x1="768.0" y1="377.0" x2="759.0" y2="377.0" stroke="#000" stroke-width="2"/>
<line x1="136.0" y1="359.5" x2="141.0" y2="359.5" stroke="#000" stroke-width="1"/>
<line x1="768.0" y1="359.5" x2="763.0" y2="359.5" stroke="#000" stroke-width="1"/>
<line x1="136.0" y1="341.5" x2="141.0" y2="341.5" stroke="#000" stroke-width="1"/>
<line x1="768.0" y1="341.5" x2="763.0" y2="341.5" stroke="#000" stroke-width="1"/>
<line x1="136.0" y1="323.5" x2="141.0" y2="323.5" stroke="#000" stroke-width="1"/>
<line x1="768.0" y1="323.5" x2="763.0" y2="323.5" stroke="#000" stroke-width="1"/>
<line x1="136.0" y1="305.5" x2="141.0" y2="305.5" stroke="#000" stroke-width="1"/>
<line x1="768.0" y1="305.5" x2="763.0" y2="305.5" stroke="#000" stroke-width="1"/>
<line x1="136.0" y1="286.0" x2="145.0" y2="286.0" stroke="#000" stroke-width="2"/>
<line x1="768.0" y1="286.0" x2="759.0" y2="286.0" stroke="#000" stroke-width="2"/>
<line x1="136.0" y1="268.5" x2="141.0" y2="268.5" stroke="#000" stroke-width="1"/>
<line x1="768.0" y1="268.5" x2="763.0" y2="268.5" stroke="#000" stroke-width="1"/>
<line x1="136.0" y1="250.5" x2="141.0" y2="250.5" stroke="#000" stroke-width="1"/>
<line x1="768.0" y1="250.5" x2="763.0" y2="250.5" stroke="#000" stroke-width="1"/>
<line x1="136.0" y1="232.5" x2="141.0" y2="232.5" stroke="#000" stroke-width="1"/>
<line x1="768.0" y1="232.5" x2="763.0" y2="232.5" stroke="#000" stroke-width="1"/>
<line x1="136.0" y1="214.5" x2="141.0" y2="214.5" stroke="#000" stroke-width="1"/>
<line x1="768.0" y1="214.5" x2="763.0" y2="214.5" stroke="#000" stroke-width="1"/>
<line x1="136.0" y1="196.0" x2="145.0" y2="196.0" stroke="#000" stroke-width="2"/>
<line x1="768.0" y1="196.0" x2="759.0" y2="196.0" stroke="#000" stroke-width="2"/>
<line x1="136.0" y1="178.5" x2="141.0" y2="178.5" stroke="#000" stroke-width="1"/>
<line x1="768.0" y1="178.5" x2="763.0" y2="178.5" stroke="#000" stroke-width="1"/>
<line x1="136.0" y1="160.5" x2="141.0" y2="160.5" stroke="#000" stroke-width="1"/>
<line x1="768.0" y1="160.5" x2="763.0" y2="160.5" stroke="#000" stroke-width="1"/>
</g>
<rect x="136" y="146" width="632" height="317" fill="none" stroke="#000" stroke-width="2" shape-rendering="crispEdges"/>
<g>
<rect x="316" y="554" width="98" height="18" fill="#b400aa" stroke="#000" stroke-width="2"/>
<rect x="414" y="554" width="43" height="18" fill="#7800aa" stroke="#000" stroke-width="2"/>
<rect x="457" y="554" width="22" height="18" fill="#4600b4" stroke="#000" stroke-width="2"/>
<rect x="479" y="554" width="11" height="18" fill="#0000b4" stroke="#000" stroke-width="2"/>
<rect x="490" y="554" width="11" height="18" fill="#0028ff" stroke="#000" stroke-width="2"/>
<rect x="501" y="554" width="11" height="18" fill="#00f0ff" stroke="#000" stroke-width="2"/>
<rect x="512" y="554" width="11" height="18" fill="#00ff00" stroke="#000" stroke-width="2"/>
<rect x="523" y="554" width="10" height="18" fill="#f0ff00" stroke="#000" stroke-width="2"/>
<rect x="533" y="554" width="11" height="18" fill="#ffd200" stroke="#000" stroke-width="2"/>
<rect x="544" y="554" width="22" height="18" fill="#ff9600" stroke="#000" stroke-width="2"/>
<rect x="566" y="554" width="22" height="18" fill="#ff6400" stroke="#000" stroke-width="2"/>
<path d="M316 554 L277 563.2 L316 572Z" fill="#e600aa" stroke="#000" stroke-width="2" stroke-linejoin="miter"/>
<path d="M588 554 L627.5 563.2 L588 572Z" fill="#ff1414" stroke="#000" stroke-width="2" stroke-linejoin="miter"/>
</g>
<g>
<text y="102.20" font-size="29.6" style="font-family:'DejaVu Sans Light','DejaVu Sans','Liberation Sans',sans-serif;font-weight:200;stroke:#000;stroke-width:0.6px" xml:space="preserve"><tspan x="305.80" y="102.20" textLength="60.40" lengthAdjust="spacing">H2O</tspan><tspan x="365.60" y="100.87" textLength="23.60" lengthAdjust="spacingAndGlyphs">-</tspan><tspan x="389.20" y="102.20">g</tspan><tspan> </tspan><tspan x="420.50" y="102.20" textLength="88.70" lengthAdjust="spacing">Mixing</tspan><tspan> </tspan><tspan x="524.20" y="102.20" textLength="73.40" lengthAdjust="spacing">Ratio</tspan></text>
<text y="485.00" font-size="20.4" style="font-family:'Liberation Sans',sans-serif;stroke:#000;stroke-width:0.4px" xml:space="preserve"><tspan x="165.70" y="485.00" textLength="21.00" lengthAdjust="spacing">16</tspan></text>
<text y="485.00" font-size="20.4" style="font-family:'Liberation Sans',sans-serif;stroke:#000;stroke-width:0.4px" xml:space="preserve"><tspan x="208.46" y="485.00" textLength="21.00" lengthAdjust="spacing">17</tspan></text>
<text y="485.00" font-size="20.4" style="font-family:'Liberation Sans',sans-serif;stroke:#000;stroke-width:0.4px" xml:space="preserve"><tspan x="251.22" y="485.00" textLength="21.00" lengthAdjust="spacing">18</tspan></text>
<text y="485.00" font-size="20.4" style="font-family:'Liberation Sans',sans-serif;stroke:#000;stroke-width:0.4px" xml:space="preserve"><tspan x="292.98" y="485.00" textLength="22.00" lengthAdjust="spacing">19</tspan></text>
<text y="485.00" font-size="20.4" style="font-family:'Liberation Sans',sans-serif;stroke:#000;stroke-width:0.4px" xml:space="preserve"><tspan x="335.74" y="485.00" textLength="21.00" lengthAdjust="spacing">20</tspan></text>
<text y="485.00" font-size="20.4" style="font-family:'Liberation Sans',sans-serif;stroke:#000;stroke-width:0.4px" xml:space="preserve"><tspan x="378.50" y="485.00" textLength="21.00" lengthAdjust="spacing">21</tspan></text>
<text y="485.00" font-size="20.4" style="font-family:'Liberation Sans',sans-serif;stroke:#000;stroke-width:0.4px" xml:space="preserve"><tspan x="421.26" y="485.00" textLength="21.00" lengthAdjust="spacing">22</tspan></text>
<text y="485.00" font-size="20.4" style="font-family:'Liberation Sans',sans-serif;stroke:#000;stroke-width:0.4px" xml:space="preserve"><tspan x="464.02" y="485.00" textLength="20.00" lengthAdjust="spacing">23</tspan></text>
<text y="485.00" font-size="20.4" style="font-family:'Liberation Sans',sans-serif;stroke:#000;stroke-width:0.4px" xml:space="preserve"><tspan x="505.78" y="485.00" textLength="21.00" lengthAdjust="spacing">24</tspan></text>
<text y="485.00" font-size="20.4" style="font-family:'Liberation Sans',sans-serif;stroke:#000;stroke-width:0.4px" xml:space="preserve"><tspan x="548.54" y="485.00" textLength="21.00" lengthAdjust="spacing">25</tspan></text>
<text y="485.00" font-size="20.4" style="font-family:'Liberation Sans',sans-serif;stroke:#000;stroke-width:0.4px" xml:space="preserve"><tspan x="591.30" y="485.00" textLength="20.00" lengthAdjust="spacing">26</tspan></text>
<text y="485.00" font-size="20.4" style="font-family:'Liberation Sans',sans-serif;stroke:#000;stroke-width:0.4px" xml:space="preserve"><tspan x="633.06" y="485.00" textLength="21.00" lengthAdjust="spacing">27</tspan></text>
<text y="485.00" font-size="20.4" style="font-family:'Liberation Sans',sans-serif;stroke:#000;stroke-width:0.4px" xml:space="preserve"><tspan x="675.82" y="485.00" textLength="21.00" lengthAdjust="spacing">28</tspan></text>
<text y="485.00" font-size="20.4" style="font-family:'Liberation Sans',sans-serif;stroke:#000;stroke-width:0.4px" xml:space="preserve"><tspan x="718.58" y="485.00" textLength="21.00" lengthAdjust="spacing">29</tspan></text>
<text y="202.20" font-size="20.4" style="font-family:'Liberation Sans',sans-serif;stroke:#000;stroke-width:0.4px" xml:space="preserve"><tspan x="105.00" y="202.20" textLength="21.20" lengthAdjust="spacing">15</tspan></text>
<text y="292.60" font-size="20.4" style="font-family:'Liberation Sans',sans-serif;stroke:#000;stroke-width:0.4px" xml:space="preserve"><tspan x="105.00" y="292.60" textLength="21.40" lengthAdjust="spacing">10</tspan></text>
<text y="383.00" font-size="20.4" style="font-family:'Liberation Sans',sans-serif;stroke:#000;stroke-width:0.4px" xml:space="preserve"><tspan x="115.80" y="383.00">5</tspan></text>
<text y="495.10" font-size="18.3" style="font-family:'Liberation Sans',sans-serif;stroke:#000;stroke-width:0.4px" xml:space="preserve"><tspan x="47.40" y="495.10" textLength="97.00" lengthAdjust="spacing">(×1000 m)</tspan></text>
<text y="506.60" font-size="17.9" style="font-family:'Liberation Sans',sans-serif;stroke:#000;stroke-width:0.4px" xml:space="preserve"><tspan x="695.60" y="506.60" textLength="85.60" lengthAdjust="spacing">(×1E4 m)</tspan></text>
<text y="536.30" font-size="24.2" style="font-family:'DejaVu Sans Light','DejaVu Sans','Liberation Sans',sans-serif;font-weight:200;stroke:#000;stroke-width:0.8px" xml:space="preserve"><tspan x="375.60" y="536.30" textLength="14.46" lengthAdjust="spacingAndGlyphs">X</tspan><tspan x="389.60" y="535.21" textLength="17.36" lengthAdjust="spacingAndGlyphs">-</tspan><tspan x="408.00" y="536.30" textLength="121.00" lengthAdjust="spacing">coordinate</tspan></text>
<text transform="translate(91.00,0) rotate(-90)" y="0" font-size="24.2" style="font-family:'DejaVu Sans Light','DejaVu Sans','Liberation Sans',sans-serif;font-weight:200;stroke:#000;stroke-width:0.8px" xml:space="preserve"><tspan x="-381.40" y="0.00" textLength="12.10" lengthAdjust="spacingAndGlyphs">Z</tspan><tspan x="-366.00" y="-1.09" textLength="16.63" lengthAdjust="spacingAndGlyphs">-</tspan><tspan x="-347.00" y="0.00" textLength="120.20" lengthAdjust="spacing">coordinate</tspan></text>
<text y="609.20" font-size="16.6" style="font-family:'DejaVu Sans Light','DejaVu Sans','Liberation Sans',sans-serif;font-weight:200;stroke:#000;stroke-width:0.3px" xml:space="preserve"><tspan x="632.20" y="609.20" textLength="79.40" lengthAdjust="spacing">t=5350 s</tspan></text>
<text y="652.30" font-size="9.6" style="font-family:'Liberation Sans',sans-serif" xml:space="preserve"><tspan x="33.00" y="652.30" textLength="180.80" lengthAdjust="spacing">/usr/local/bin/gpview  2010-10-26</tspan></text>
<text y="652.30" font-size="9.4" style="font-family:'Liberation Sans',sans-serif" xml:space="preserve"><tspan x="628.00" y="652.30" textLength="242.20" lengthAdjust="spacing">arare-earth_H2O-g.nc@H2O-g,x=150000:300000</tspan></text>
<text y="590.60" font-size="15.8" style="font-family:'Liberation Sans',sans-serif;stroke:#000;stroke-width:0.5px" xml:space="preserve"><tspan x="429.40" y="589.89" textLength="11.09" lengthAdjust="spacingAndGlyphs">-</tspan><tspan x="442.80" y="590.60" textLength="44.20" lengthAdjust="spacing">0.003</tspan></text>
<text y="590.60" font-size="15.8" style="font-family:'Liberation Sans',sans-serif;stroke:#000;stroke-width:0.5px" xml:space="preserve"><tspan x="472.00" y="589.89" textLength="11.34" lengthAdjust="spacingAndGlyphs">-</tspan><tspan x="484.00" y="590.60" textLength="41.00" lengthAdjust="spacing">0.001</tspan></text>
<text y="590.60" font-size="15.8" style="font-family:'Liberation Sans',sans-serif;stroke:#000;stroke-width:0.5px" xml:space="preserve"><tspan x="512.00" y="590.60" textLength="19.00" lengthAdjust="spacing">5e</tspan><tspan x="531.00" y="589.89" textLength="13.31" lengthAdjust="spacingAndGlyphs">-</tspan><tspan x="546.00" y="590.60" textLength="7.85" lengthAdjust="spacingAndGlyphs">4</tspan></text>
<text y="590.60" font-size="15.8" style="font-family:'Liberation Sans',sans-serif;stroke:#000;stroke-width:0.5px" xml:space="preserve"><tspan x="565.20" y="590.60" textLength="45.00" lengthAdjust="spacing">0.003</tspan></text>
</g>
</svg>
</body></html>
